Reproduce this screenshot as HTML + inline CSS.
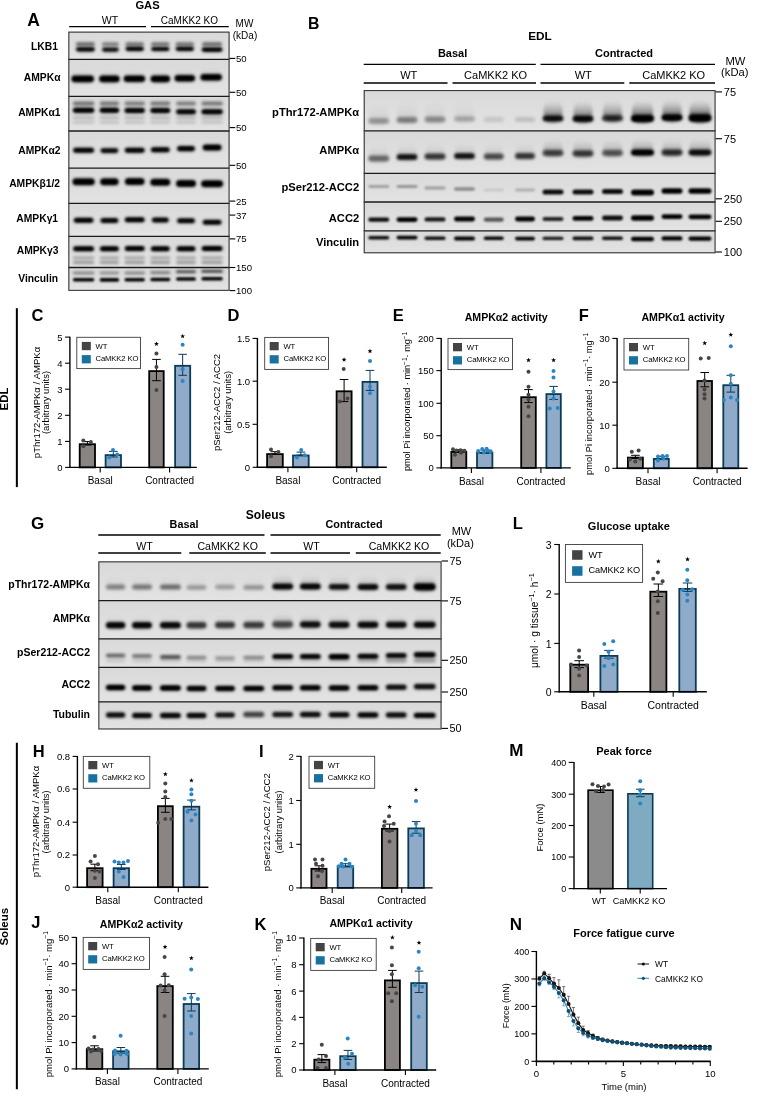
<!DOCTYPE html>
<html><head><meta charset="utf-8"><title>Figure</title>
<style>
html,body{margin:0;padding:0;background:#fff;}
body{width:760px;height:1096px;overflow:hidden;}
svg{display:block;font-family:"Liberation Sans", sans-serif;will-change:transform;}
</style></head>
<body>
<svg width="760" height="1096" viewBox="0 0 760 1096">
<defs>
<filter id="bl1" x="-40%" y="-300%" width="180%" height="700%"><feGaussianBlur stdDeviation="1.35"/></filter><linearGradient id="smg" x1="0" y1="0" x2="0" y2="1"><stop offset="0" stop-color="#000" stop-opacity="0"/><stop offset="0.45" stop-color="#000" stop-opacity="0.3"/><stop offset="0.8" stop-color="#000" stop-opacity="0.75"/><stop offset="1" stop-color="#000" stop-opacity="1"/></linearGradient><filter id="bls" x="-40%" y="-100%" width="180%" height="300%"><feGaussianBlur stdDeviation="1.8 2.0"/></filter><filter id="bl0" x="-40%" y="-300%" width="180%" height="700%"><feGaussianBlur stdDeviation="0.8"/></filter><filter id="bl2" x="-40%" y="-300%" width="180%" height="700%"><feGaussianBlur stdDeviation="1.5"/></filter><filter id="bl3" x="-40%" y="-300%" width="180%" height="700%"><feGaussianBlur stdDeviation="2.4"/></filter><linearGradient id="bgg" x1="0" y1="0" x2="0" y2="1"><stop offset="0" stop-color="#d9d9d9"/><stop offset="1" stop-color="#e3e3e3"/></linearGradient>
</defs>
<rect x="0" y="0" width="760" height="1096" fill="#fff"/>
<rect x="68.3" y="31.6" width="161.3" height="259.3" fill="#dcdcdc" stroke="none" stroke-width="1.0"/>
<svg x="68.3" y="31.6" width="161.3" height="259.3" viewBox="68.3 31.6 161.3 259.3" overflow="hidden">
<rect x="68.3" y="31.6" width="161.3" height="27.7" fill="url(#bgg)"/>
<rect x="75.9" y="42.3" width="19" height="3.8" rx="1.9" fill="#000" fill-opacity="0.55" filter="url(#bl2)"/>
<rect x="101.9" y="42.3" width="17" height="3.8" rx="1.9" fill="#000" fill-opacity="0.45" filter="url(#bl2)"/>
<rect x="125.45" y="42.3" width="18.5" height="3.8" rx="1.9" fill="#000" fill-opacity="0.5" filter="url(#bl2)"/>
<rect x="151.05" y="42.3" width="18.5" height="3.8" rx="1.9" fill="#000" fill-opacity="0.5" filter="url(#bl2)"/>
<rect x="175.55" y="42.3" width="18.5" height="3.8" rx="1.9" fill="#000" fill-opacity="0.5" filter="url(#bl2)"/>
<rect x="202.1" y="42.3" width="20" height="3.8" rx="1.9" fill="#000" fill-opacity="0.55" filter="url(#bl2)"/>
<rect x="76.9" y="44.3" width="17" height="7.1" rx="6.33" ry="2.5" fill="url(#smg)" fill-opacity="0.2" filter="url(#bls)"/>
<rect x="75.9" y="47.2" width="19" height="4.2" rx="2.1" fill="#000" fill-opacity="0.97" filter="url(#bl1)"/>
<rect x="77.4" y="48.25" width="16" height="2.1" rx="1.05" fill="#000" fill-opacity="0.78" filter="url(#bl0)"/>
<rect x="102.9" y="44.6" width="15" height="7.1" rx="5.67" ry="2.5" fill="url(#smg)" fill-opacity="0.18" filter="url(#bls)"/>
<rect x="101.9" y="47.5" width="17" height="4.2" rx="2.1" fill="#000" fill-opacity="0.85" filter="url(#bl1)"/>
<rect x="103.4" y="48.55" width="14" height="2.1" rx="1.05" fill="#000" fill-opacity="0.68" filter="url(#bl0)"/>
<rect x="126.45" y="43.8" width="16.5" height="7.1" rx="6.17" ry="2.5" fill="url(#smg)" fill-opacity="0.2" filter="url(#bls)"/>
<rect x="125.45" y="46.7" width="18.5" height="4.2" rx="2.1" fill="#000" fill-opacity="0.97" filter="url(#bl1)"/>
<rect x="126.95" y="47.75" width="15.5" height="2.1" rx="1.05" fill="#000" fill-opacity="0.78" filter="url(#bl0)"/>
<rect x="152.05" y="44" width="16.5" height="7.1" rx="6.17" ry="2.5" fill="url(#smg)" fill-opacity="0.2" filter="url(#bls)"/>
<rect x="151.05" y="46.9" width="18.5" height="4.2" rx="2.1" fill="#000" fill-opacity="0.92" filter="url(#bl1)"/>
<rect x="152.55" y="47.95" width="15.5" height="2.1" rx="1.05" fill="#000" fill-opacity="0.74" filter="url(#bl0)"/>
<rect x="176.55" y="43.8" width="16.5" height="7.1" rx="6.17" ry="2.5" fill="url(#smg)" fill-opacity="0.2" filter="url(#bls)"/>
<rect x="175.55" y="46.7" width="18.5" height="4.2" rx="2.1" fill="#000" fill-opacity="0.95" filter="url(#bl1)"/>
<rect x="177.05" y="47.75" width="15.5" height="2.1" rx="1.05" fill="#000" fill-opacity="0.76" filter="url(#bl0)"/>
<rect x="202.6" y="44.6" width="19" height="7.1" rx="7" ry="2.5" fill="url(#smg)" fill-opacity="0.22" filter="url(#bls)"/>
<rect x="201.6" y="47.5" width="21" height="4.2" rx="2.1" fill="#000" fill-opacity="1" filter="url(#bl1)"/>
<rect x="203.1" y="48.55" width="18" height="2.1" rx="1.05" fill="#000" fill-opacity="0.8" filter="url(#bl0)"/>
<rect x="68.3" y="59.3" width="161.3" height="37.1" fill="url(#bgg)"/>
<rect x="72.45" y="70.9" width="20.5" height="11.3" rx="7.5" ry="4" fill="url(#smg)" fill-opacity="0.2" filter="url(#bls)"/>
<rect x="71.45" y="75.6" width="22.5" height="6.6" rx="3.3" fill="#000" fill-opacity="1" filter="url(#bl1)"/>
<rect x="72.95" y="77.25" width="19.5" height="3.3" rx="1.65" fill="#000" fill-opacity="0.8" filter="url(#bl0)"/>
<rect x="100.15" y="70.9" width="18.5" height="11.3" rx="6.83" ry="4" fill="url(#smg)" fill-opacity="0.2" filter="url(#bls)"/>
<rect x="99.15" y="75.6" width="20.5" height="6.6" rx="3.3" fill="#000" fill-opacity="1" filter="url(#bl1)"/>
<rect x="100.65" y="77.25" width="17.5" height="3.3" rx="1.65" fill="#000" fill-opacity="0.8" filter="url(#bl0)"/>
<rect x="124.65" y="70.7" width="19.5" height="11.3" rx="7.17" ry="4" fill="url(#smg)" fill-opacity="0.2" filter="url(#bls)"/>
<rect x="123.65" y="75.4" width="21.5" height="6.6" rx="3.3" fill="#000" fill-opacity="1" filter="url(#bl1)"/>
<rect x="125.15" y="77.05" width="18.5" height="3.3" rx="1.65" fill="#000" fill-opacity="0.8" filter="url(#bl0)"/>
<rect x="151.55" y="70.9" width="17.5" height="11.3" rx="6.5" ry="4" fill="url(#smg)" fill-opacity="0.2" filter="url(#bls)"/>
<rect x="150.55" y="75.6" width="19.5" height="6.6" rx="3.3" fill="#000" fill-opacity="1" filter="url(#bl1)"/>
<rect x="152.05" y="77.25" width="16.5" height="3.3" rx="1.65" fill="#000" fill-opacity="0.8" filter="url(#bl0)"/>
<rect x="175.55" y="70.3" width="18.5" height="11.3" rx="6.83" ry="4" fill="url(#smg)" fill-opacity="0.2" filter="url(#bls)"/>
<rect x="174.55" y="75" width="20.5" height="6.6" rx="3.3" fill="#000" fill-opacity="1" filter="url(#bl1)"/>
<rect x="176.05" y="76.65" width="17.5" height="3.3" rx="1.65" fill="#000" fill-opacity="0.8" filter="url(#bl0)"/>
<rect x="201.45" y="69.3" width="19.5" height="11.3" rx="7.17" ry="4" fill="url(#smg)" fill-opacity="0.2" filter="url(#bls)"/>
<rect x="200.45" y="74" width="21.5" height="6.6" rx="3.3" fill="#000" fill-opacity="1" filter="url(#bl1)"/>
<rect x="201.95" y="75.65" width="18.5" height="3.3" rx="1.65" fill="#000" fill-opacity="0.8" filter="url(#bl0)"/>
<rect x="68.3" y="96.4" width="161.3" height="34.6" fill="url(#bgg)"/>
<rect x="72.85" y="101.6" width="21.5" height="4" rx="2" fill="#000" fill-opacity="0.5" filter="url(#bl2)"/>
<rect x="99.65" y="101.6" width="19.5" height="4" rx="2" fill="#000" fill-opacity="0.48" filter="url(#bl2)"/>
<rect x="124.45" y="101.6" width="20.5" height="4" rx="2" fill="#000" fill-opacity="0.45" filter="url(#bl2)"/>
<rect x="150.3" y="101.6" width="20" height="4" rx="2" fill="#000" fill-opacity="0.48" filter="url(#bl2)"/>
<rect x="176" y="101.6" width="20" height="4" rx="2" fill="#000" fill-opacity="0.45" filter="url(#bl2)"/>
<rect x="201.35" y="101.6" width="21.5" height="4" rx="2" fill="#000" fill-opacity="0.48" filter="url(#bl2)"/>
<rect x="73.85" y="104.2" width="19.5" height="8.5" rx="7.17" ry="3" fill="url(#smg)" fill-opacity="0.25" filter="url(#bls)"/>
<rect x="72.85" y="107.7" width="21.5" height="5" rx="2.5" fill="#000" fill-opacity="1" filter="url(#bl1)"/>
<rect x="74.35" y="108.95" width="18.5" height="2.5" rx="1.25" fill="#000" fill-opacity="0.8" filter="url(#bl0)"/>
<rect x="100.65" y="104.2" width="17.5" height="8.5" rx="6.5" ry="3" fill="url(#smg)" fill-opacity="0.25" filter="url(#bls)"/>
<rect x="99.65" y="107.7" width="19.5" height="5" rx="2.5" fill="#000" fill-opacity="1" filter="url(#bl1)"/>
<rect x="101.15" y="108.95" width="16.5" height="2.5" rx="1.25" fill="#000" fill-opacity="0.8" filter="url(#bl0)"/>
<rect x="125.45" y="104.6" width="18.5" height="8.5" rx="6.83" ry="3" fill="url(#smg)" fill-opacity="0.22" filter="url(#bls)"/>
<rect x="124.45" y="108.1" width="20.5" height="5" rx="2.5" fill="#000" fill-opacity="0.97" filter="url(#bl1)"/>
<rect x="125.95" y="109.35" width="17.5" height="2.5" rx="1.25" fill="#000" fill-opacity="0.78" filter="url(#bl0)"/>
<rect x="151.3" y="104.6" width="18" height="8.5" rx="6.67" ry="3" fill="url(#smg)" fill-opacity="0.25" filter="url(#bls)"/>
<rect x="150.3" y="108.1" width="20" height="5" rx="2.5" fill="#000" fill-opacity="0.97" filter="url(#bl1)"/>
<rect x="151.8" y="109.35" width="17" height="2.5" rx="1.25" fill="#000" fill-opacity="0.78" filter="url(#bl0)"/>
<rect x="177" y="105.8" width="18" height="8.5" rx="6.67" ry="3" fill="url(#smg)" fill-opacity="0.22" filter="url(#bls)"/>
<rect x="176" y="109.3" width="20" height="5" rx="2.5" fill="#000" fill-opacity="0.95" filter="url(#bl1)"/>
<rect x="177.5" y="110.55" width="17" height="2.5" rx="1.25" fill="#000" fill-opacity="0.76" filter="url(#bl0)"/>
<rect x="202.35" y="105.8" width="19.5" height="8.5" rx="7.17" ry="3" fill="url(#smg)" fill-opacity="0.25" filter="url(#bls)"/>
<rect x="201.35" y="109.3" width="21.5" height="5" rx="2.5" fill="#000" fill-opacity="0.97" filter="url(#bl1)"/>
<rect x="202.85" y="110.55" width="18.5" height="2.5" rx="1.25" fill="#000" fill-opacity="0.78" filter="url(#bl0)"/>
<rect x="72.85" y="116.3" width="21.5" height="2.6" rx="1.3" fill="#000" fill-opacity="0.2" filter="url(#bl2)"/>
<rect x="99.65" y="116.3" width="19.5" height="2.6" rx="1.3" fill="#000" fill-opacity="0.2" filter="url(#bl2)"/>
<rect x="124.45" y="116.3" width="20.5" height="2.6" rx="1.3" fill="#000" fill-opacity="0.2" filter="url(#bl2)"/>
<rect x="150.3" y="116.3" width="20" height="2.6" rx="1.3" fill="#000" fill-opacity="0.2" filter="url(#bl2)"/>
<rect x="176" y="116.3" width="20" height="2.6" rx="1.3" fill="#000" fill-opacity="0.2" filter="url(#bl2)"/>
<rect x="201.35" y="116.3" width="21.5" height="2.6" rx="1.3" fill="#000" fill-opacity="0.2" filter="url(#bl2)"/>
<rect x="72.85" y="120.9" width="21.5" height="2.6" rx="1.3" fill="#000" fill-opacity="0.17" filter="url(#bl2)"/>
<rect x="99.65" y="120.9" width="19.5" height="2.6" rx="1.3" fill="#000" fill-opacity="0.17" filter="url(#bl2)"/>
<rect x="124.45" y="120.9" width="20.5" height="2.6" rx="1.3" fill="#000" fill-opacity="0.17" filter="url(#bl2)"/>
<rect x="150.3" y="120.9" width="20" height="2.6" rx="1.3" fill="#000" fill-opacity="0.17" filter="url(#bl2)"/>
<rect x="176" y="120.9" width="20" height="2.6" rx="1.3" fill="#000" fill-opacity="0.17" filter="url(#bl2)"/>
<rect x="201.35" y="120.9" width="21.5" height="2.6" rx="1.3" fill="#000" fill-opacity="0.17" filter="url(#bl2)"/>
<rect x="68.3" y="131" width="161.3" height="37.2" fill="url(#bgg)"/>
<rect x="74.1" y="144.2" width="19" height="8.5" rx="7" ry="3" fill="url(#smg)" fill-opacity="0.12" filter="url(#bls)"/>
<rect x="73.1" y="147.7" width="21" height="5" rx="2.5" fill="#000" fill-opacity="0.97" filter="url(#bl1)"/>
<rect x="74.6" y="148.95" width="18" height="2.5" rx="1.25" fill="#000" fill-opacity="0.78" filter="url(#bl0)"/>
<rect x="101.4" y="144.6" width="16" height="8.4" rx="6" ry="3" fill="url(#smg)" fill-opacity="0.12" filter="url(#bls)"/>
<rect x="100.4" y="148.2" width="18" height="4.8" rx="2.4" fill="#000" fill-opacity="0.92" filter="url(#bl1)"/>
<rect x="101.9" y="149.4" width="15" height="2.4" rx="1.2" fill="#000" fill-opacity="0.74" filter="url(#bl0)"/>
<rect x="125.7" y="144.2" width="18" height="8.5" rx="6.67" ry="3" fill="url(#smg)" fill-opacity="0.12" filter="url(#bls)"/>
<rect x="124.7" y="147.7" width="20" height="5" rx="2.5" fill="#000" fill-opacity="0.97" filter="url(#bl1)"/>
<rect x="126.2" y="148.95" width="17" height="2.5" rx="1.25" fill="#000" fill-opacity="0.78" filter="url(#bl0)"/>
<rect x="151.8" y="143.7" width="17" height="8.5" rx="6.33" ry="3" fill="url(#smg)" fill-opacity="0.12" filter="url(#bls)"/>
<rect x="150.8" y="147.2" width="19" height="5" rx="2.5" fill="#000" fill-opacity="0.97" filter="url(#bl1)"/>
<rect x="152.3" y="148.45" width="16" height="2.5" rx="1.25" fill="#000" fill-opacity="0.78" filter="url(#bl0)"/>
<rect x="178" y="142.6" width="16" height="8.7" rx="6" ry="3" fill="url(#smg)" fill-opacity="0.12" filter="url(#bls)"/>
<rect x="177" y="145.9" width="18" height="5.4" rx="2.7" fill="#000" fill-opacity="0.97" filter="url(#bl1)"/>
<rect x="178.5" y="147.25" width="15" height="2.7" rx="1.35" fill="#000" fill-opacity="0.78" filter="url(#bl0)"/>
<rect x="203.6" y="141.6" width="17" height="9" rx="6.33" ry="3" fill="url(#smg)" fill-opacity="0.12" filter="url(#bls)"/>
<rect x="202.6" y="144.6" width="19" height="6" rx="3" fill="#000" fill-opacity="1" filter="url(#bl1)"/>
<rect x="204.1" y="146.1" width="16" height="3" rx="1.5" fill="#000" fill-opacity="0.8" filter="url(#bl0)"/>
<rect x="68.3" y="168.2" width="161.3" height="35.1" fill="url(#bgg)"/>
<rect x="72.45" y="178.3" width="22.3" height="7" rx="3.5" fill="#000" fill-opacity="1" filter="url(#bl1)"/>
<rect x="73.95" y="180.05" width="19.3" height="3.5" rx="1.75" fill="#000" fill-opacity="0.8" filter="url(#bl0)"/>
<rect x="100.15" y="178.3" width="18.5" height="7" rx="3.5" fill="#000" fill-opacity="1" filter="url(#bl1)"/>
<rect x="101.65" y="180.05" width="15.5" height="3.5" rx="1.75" fill="#000" fill-opacity="0.8" filter="url(#bl0)"/>
<rect x="124.85" y="178.1" width="19.7" height="7" rx="3.5" fill="#000" fill-opacity="1" filter="url(#bl1)"/>
<rect x="126.35" y="179.85" width="16.7" height="3.5" rx="1.75" fill="#000" fill-opacity="0.8" filter="url(#bl0)"/>
<rect x="150.3" y="178.7" width="20" height="7" rx="3.5" fill="#000" fill-opacity="1" filter="url(#bl1)"/>
<rect x="151.8" y="180.45" width="17" height="3.5" rx="1.75" fill="#000" fill-opacity="0.8" filter="url(#bl0)"/>
<rect x="176" y="180.1" width="20" height="7" rx="3.5" fill="#000" fill-opacity="1" filter="url(#bl1)"/>
<rect x="177.5" y="181.85" width="17" height="3.5" rx="1.75" fill="#000" fill-opacity="0.8" filter="url(#bl0)"/>
<rect x="201.1" y="180.3" width="22" height="7" rx="3.5" fill="#000" fill-opacity="1" filter="url(#bl1)"/>
<rect x="202.6" y="182.05" width="19" height="3.5" rx="1.75" fill="#000" fill-opacity="0.8" filter="url(#bl0)"/>
<rect x="68.3" y="203.3" width="161.3" height="33" fill="url(#bgg)"/>
<rect x="73.75" y="217.7" width="19.7" height="5" rx="2.5" fill="#000" fill-opacity="1" filter="url(#bl1)"/>
<rect x="75.25" y="218.95" width="16.7" height="2.5" rx="1.25" fill="#000" fill-opacity="0.8" filter="url(#bl0)"/>
<rect x="100.4" y="218.1" width="18" height="5" rx="2.5" fill="#000" fill-opacity="0.95" filter="url(#bl1)"/>
<rect x="101.9" y="219.35" width="15" height="2.5" rx="1.25" fill="#000" fill-opacity="0.76" filter="url(#bl0)"/>
<rect x="124.7" y="217.3" width="20" height="5" rx="2.5" fill="#000" fill-opacity="1" filter="url(#bl1)"/>
<rect x="126.2" y="218.55" width="17" height="2.5" rx="1.25" fill="#000" fill-opacity="0.8" filter="url(#bl0)"/>
<rect x="151.8" y="217.5" width="17" height="5" rx="2.5" fill="#000" fill-opacity="0.95" filter="url(#bl1)"/>
<rect x="153.3" y="218.75" width="14" height="2.5" rx="1.25" fill="#000" fill-opacity="0.76" filter="url(#bl0)"/>
<rect x="177" y="218.3" width="18" height="5" rx="2.5" fill="#000" fill-opacity="0.95" filter="url(#bl1)"/>
<rect x="178.5" y="219.55" width="15" height="2.5" rx="1.25" fill="#000" fill-opacity="0.76" filter="url(#bl0)"/>
<rect x="202.6" y="219.7" width="19" height="5" rx="2.5" fill="#000" fill-opacity="0.95" filter="url(#bl1)"/>
<rect x="204.1" y="220.95" width="16" height="2.5" rx="1.25" fill="#000" fill-opacity="0.76" filter="url(#bl0)"/>
<rect x="68.3" y="236.3" width="161.3" height="31.2" fill="url(#bgg)"/>
<rect x="73.1" y="246.3" width="21" height="5" rx="2.5" fill="#000" fill-opacity="1" filter="url(#bl1)"/>
<rect x="74.6" y="247.55" width="18" height="2.5" rx="1.25" fill="#000" fill-opacity="0.8" filter="url(#bl0)"/>
<rect x="99.9" y="246.3" width="19" height="5" rx="2.5" fill="#000" fill-opacity="1" filter="url(#bl1)"/>
<rect x="101.4" y="247.55" width="16" height="2.5" rx="1.25" fill="#000" fill-opacity="0.8" filter="url(#bl0)"/>
<rect x="124.7" y="246.1" width="20" height="5" rx="2.5" fill="#000" fill-opacity="1" filter="url(#bl1)"/>
<rect x="126.2" y="247.35" width="17" height="2.5" rx="1.25" fill="#000" fill-opacity="0.8" filter="url(#bl0)"/>
<rect x="150.8" y="246.3" width="19" height="5" rx="2.5" fill="#000" fill-opacity="1" filter="url(#bl1)"/>
<rect x="152.3" y="247.55" width="16" height="2.5" rx="1.25" fill="#000" fill-opacity="0.8" filter="url(#bl0)"/>
<rect x="176.5" y="246.3" width="19" height="5" rx="2.5" fill="#000" fill-opacity="1" filter="url(#bl1)"/>
<rect x="178" y="247.55" width="16" height="2.5" rx="1.25" fill="#000" fill-opacity="0.8" filter="url(#bl0)"/>
<rect x="201.6" y="246.1" width="21" height="5" rx="2.5" fill="#000" fill-opacity="1" filter="url(#bl1)"/>
<rect x="203.1" y="247.35" width="18" height="2.5" rx="1.25" fill="#000" fill-opacity="0.8" filter="url(#bl0)"/>
<rect x="72.85" y="256.4" width="21.5" height="2.8" rx="1.4" fill="#000" fill-opacity="0.3" filter="url(#bl2)"/>
<rect x="99.65" y="256.4" width="19.5" height="2.8" rx="1.4" fill="#000" fill-opacity="0.3" filter="url(#bl2)"/>
<rect x="124.45" y="256.4" width="20.5" height="2.8" rx="1.4" fill="#000" fill-opacity="0.3" filter="url(#bl2)"/>
<rect x="150.3" y="256.4" width="20" height="2.8" rx="1.4" fill="#000" fill-opacity="0.3" filter="url(#bl2)"/>
<rect x="176" y="256.4" width="20" height="2.8" rx="1.4" fill="#000" fill-opacity="0.3" filter="url(#bl2)"/>
<rect x="201.35" y="256.4" width="21.5" height="2.8" rx="1.4" fill="#000" fill-opacity="0.3" filter="url(#bl2)"/>
<rect x="72.85" y="260.9" width="21.5" height="3" rx="1.5" fill="#000" fill-opacity="0.34" filter="url(#bl2)"/>
<rect x="99.65" y="260.9" width="19.5" height="3" rx="1.5" fill="#000" fill-opacity="0.34" filter="url(#bl2)"/>
<rect x="124.45" y="260.9" width="20.5" height="3" rx="1.5" fill="#000" fill-opacity="0.34" filter="url(#bl2)"/>
<rect x="150.3" y="260.9" width="20" height="3" rx="1.5" fill="#000" fill-opacity="0.34" filter="url(#bl2)"/>
<rect x="176" y="260.9" width="20" height="3" rx="1.5" fill="#000" fill-opacity="0.34" filter="url(#bl2)"/>
<rect x="201.35" y="260.9" width="21.5" height="3" rx="1.5" fill="#000" fill-opacity="0.34" filter="url(#bl2)"/>
<rect x="68.3" y="267.5" width="161.3" height="23.4" fill="url(#bgg)"/>
<rect x="72.85" y="271.8" width="21.5" height="2.4" rx="1.2" fill="#000" fill-opacity="0.48" filter="url(#bl1)"/>
<rect x="99.65" y="271.8" width="19.5" height="2.4" rx="1.2" fill="#000" fill-opacity="0.42" filter="url(#bl1)"/>
<rect x="124.45" y="271.8" width="20.5" height="2.4" rx="1.2" fill="#000" fill-opacity="0.48" filter="url(#bl1)"/>
<rect x="150.3" y="271.4" width="20" height="2.4" rx="1.2" fill="#000" fill-opacity="0.58" filter="url(#bl1)"/>
<rect x="176" y="270.6" width="20" height="2.4" rx="1.2" fill="#000" fill-opacity="0.8" filter="url(#bl1)"/>
<rect x="201.35" y="270" width="21.5" height="2.4" rx="1.2" fill="#000" fill-opacity="0.85" filter="url(#bl1)"/>
<rect x="72.85" y="278" width="21.5" height="3.6" rx="1.8" fill="#000" fill-opacity="1" filter="url(#bl0)"/>
<rect x="99.65" y="278.1" width="19.5" height="3.6" rx="1.8" fill="#000" fill-opacity="1" filter="url(#bl0)"/>
<rect x="124.45" y="277.9" width="20.5" height="3.6" rx="1.8" fill="#000" fill-opacity="1" filter="url(#bl0)"/>
<rect x="150.3" y="277.7" width="20" height="3.6" rx="1.8" fill="#000" fill-opacity="1" filter="url(#bl0)"/>
<rect x="176" y="277.2" width="20" height="3.6" rx="1.8" fill="#000" fill-opacity="1" filter="url(#bl0)"/>
<rect x="201.35" y="277" width="21.5" height="3.6" rx="1.8" fill="#000" fill-opacity="1" filter="url(#bl0)"/>
</svg>
<line x1="68.3" y1="59.3" x2="229.6" y2="59.3" stroke="#1a1a1a" stroke-width="1.3"/>
<line x1="68.3" y1="96.4" x2="229.6" y2="96.4" stroke="#1a1a1a" stroke-width="1.3"/>
<line x1="68.3" y1="131" x2="229.6" y2="131" stroke="#1a1a1a" stroke-width="1.3"/>
<line x1="68.3" y1="168.2" x2="229.6" y2="168.2" stroke="#1a1a1a" stroke-width="1.3"/>
<line x1="68.3" y1="203.3" x2="229.6" y2="203.3" stroke="#1a1a1a" stroke-width="1.3"/>
<line x1="68.3" y1="236.3" x2="229.6" y2="236.3" stroke="#1a1a1a" stroke-width="1.3"/>
<line x1="68.3" y1="267.5" x2="229.6" y2="267.5" stroke="#1a1a1a" stroke-width="1.3"/>
<rect x="68.85" y="32.15" width="160.2" height="258.2" fill="none" stroke="#3a3a3a" stroke-width="1.1"/>
<rect x="363.7" y="90" width="351.9" height="163.3" fill="#dcdcdc" stroke="none" stroke-width="1.0"/>
<svg x="363.7" y="90" width="351.9" height="163.3" viewBox="363.7 90 351.9 163.3" overflow="hidden">
<rect x="363.7" y="90" width="351.9" height="40.8" fill="url(#bgg)"/>
<rect x="369.25" y="104" width="19" height="20" rx="7" ry="8.5" fill="url(#smg)" fill-opacity="0.1" filter="url(#bls)"/>
<rect x="368.25" y="118" width="21" height="6" rx="3" fill="#000" fill-opacity="0.3" filter="url(#bl1)"/>
<rect x="397.5" y="103" width="19" height="20" rx="7" ry="8.5" fill="url(#smg)" fill-opacity="0.12" filter="url(#bls)"/>
<rect x="396.5" y="117" width="21" height="6" rx="3" fill="#000" fill-opacity="0.4" filter="url(#bl1)"/>
<rect x="425.5" y="102.5" width="19" height="20" rx="7" ry="8.5" fill="url(#smg)" fill-opacity="0.1" filter="url(#bls)"/>
<rect x="424.5" y="116.5" width="21" height="6" rx="3" fill="#000" fill-opacity="0.36" filter="url(#bl1)"/>
<rect x="455" y="102" width="19" height="19.8" rx="7" ry="8.5" fill="url(#smg)" fill-opacity="0.08" filter="url(#bls)"/>
<rect x="454" y="116.2" width="21" height="5.6" rx="2.8" fill="#000" fill-opacity="0.24" filter="url(#bl1)"/>
<rect x="483.75" y="117" width="20" height="5" rx="2.5" fill="#000" fill-opacity="0.12" filter="url(#bl1)"/>
<rect x="515" y="117" width="20" height="5" rx="2.5" fill="#000" fill-opacity="0.15" filter="url(#bl1)"/>
<rect x="543.5" y="101.6" width="19" height="20" rx="7" ry="8.5" fill="url(#smg)" fill-opacity="0.72" filter="url(#bls)"/>
<rect x="542.5" y="115.6" width="21" height="6" rx="3" fill="#000" fill-opacity="0.8" filter="url(#bl1)"/>
<rect x="544" y="117.1" width="18" height="3" rx="1.5" fill="#000" fill-opacity="0.64" filter="url(#bl0)"/>
<rect x="573.5" y="101.8" width="19" height="20.1" rx="7" ry="8.5" fill="url(#smg)" fill-opacity="0.72" filter="url(#bls)"/>
<rect x="572.5" y="115.7" width="21" height="6.2" rx="3.1" fill="#000" fill-opacity="0.88" filter="url(#bl1)"/>
<rect x="574" y="117.25" width="18" height="3.1" rx="1.55" fill="#000" fill-opacity="0.7" filter="url(#bl0)"/>
<rect x="603" y="101.2" width="19" height="20" rx="7" ry="8.5" fill="url(#smg)" fill-opacity="0.66" filter="url(#bls)"/>
<rect x="602" y="115.2" width="21" height="6" rx="3" fill="#000" fill-opacity="0.75" filter="url(#bl1)"/>
<rect x="632" y="101.4" width="21" height="20.5" rx="7.67" ry="8.5" fill="url(#smg)" fill-opacity="0.9" filter="url(#bls)"/>
<rect x="631" y="114.9" width="23" height="7" rx="3.5" fill="#000" fill-opacity="1" filter="url(#bl1)"/>
<rect x="632.5" y="116.65" width="20" height="3.5" rx="1.75" fill="#000" fill-opacity="0.8" filter="url(#bl0)"/>
<rect x="662.5" y="100.6" width="19" height="20.1" rx="7" ry="8.5" fill="url(#smg)" fill-opacity="0.85" filter="url(#bls)"/>
<rect x="661.5" y="114.5" width="21" height="6.2" rx="3.1" fill="#000" fill-opacity="1" filter="url(#bl1)"/>
<rect x="663" y="116.05" width="18" height="3.1" rx="1.55" fill="#000" fill-opacity="0.8" filter="url(#bl0)"/>
<rect x="689.5" y="101" width="21" height="20.8" rx="7.67" ry="8.5" fill="url(#smg)" fill-opacity="0.95" filter="url(#bls)"/>
<rect x="688.5" y="114.2" width="23" height="7.6" rx="3.8" fill="#000" fill-opacity="1" filter="url(#bl1)"/>
<rect x="690" y="116.1" width="20" height="3.8" rx="1.9" fill="#000" fill-opacity="0.8" filter="url(#bl0)"/>
<rect x="363.7" y="130.8" width="351.9" height="42.5" fill="url(#bgg)"/>
<rect x="369.25" y="145.5" width="19" height="16.1" rx="7" ry="6.5" fill="url(#smg)" fill-opacity="0.16" filter="url(#bls)"/>
<rect x="368.25" y="155.4" width="21" height="6.2" rx="3.1" fill="#000" fill-opacity="0.5" filter="url(#bl1)"/>
<rect x="397.5" y="144" width="19" height="16.1" rx="7" ry="6.5" fill="url(#smg)" fill-opacity="0.2" filter="url(#bls)"/>
<rect x="396.5" y="153.9" width="21" height="6.2" rx="3.1" fill="#000" fill-opacity="0.8" filter="url(#bl1)"/>
<rect x="398" y="155.45" width="18" height="3.1" rx="1.55" fill="#000" fill-opacity="0.64" filter="url(#bl0)"/>
<rect x="425.5" y="143.5" width="19" height="16.1" rx="7" ry="6.5" fill="url(#smg)" fill-opacity="0.18" filter="url(#bls)"/>
<rect x="424.5" y="153.4" width="21" height="6.2" rx="3.1" fill="#000" fill-opacity="0.75" filter="url(#bl1)"/>
<rect x="455" y="143" width="19" height="16.1" rx="7" ry="6.5" fill="url(#smg)" fill-opacity="0.2" filter="url(#bls)"/>
<rect x="454" y="152.9" width="21" height="6.2" rx="3.1" fill="#000" fill-opacity="0.8" filter="url(#bl1)"/>
<rect x="455.5" y="154.45" width="18" height="3.1" rx="1.55" fill="#000" fill-opacity="0.64" filter="url(#bl0)"/>
<rect x="484.75" y="143.5" width="18" height="16.1" rx="6.67" ry="6.5" fill="url(#smg)" fill-opacity="0.16" filter="url(#bls)"/>
<rect x="483.75" y="153.4" width="20" height="6.2" rx="3.1" fill="#000" fill-opacity="0.65" filter="url(#bl1)"/>
<rect x="516" y="143" width="18" height="16.1" rx="6.67" ry="6.5" fill="url(#smg)" fill-opacity="0.18" filter="url(#bls)"/>
<rect x="515" y="152.9" width="20" height="6.2" rx="3.1" fill="#000" fill-opacity="0.75" filter="url(#bl1)"/>
<rect x="543.5" y="140" width="19" height="16.1" rx="7" ry="6.5" fill="url(#smg)" fill-opacity="0.42" filter="url(#bls)"/>
<rect x="542.5" y="149.9" width="21" height="6.2" rx="3.1" fill="#000" fill-opacity="0.65" filter="url(#bl1)"/>
<rect x="573.5" y="140.5" width="19" height="16.1" rx="7" ry="6.5" fill="url(#smg)" fill-opacity="0.42" filter="url(#bls)"/>
<rect x="572.5" y="150.4" width="21" height="6.2" rx="3.1" fill="#000" fill-opacity="0.7" filter="url(#bl1)"/>
<rect x="603" y="140" width="19" height="16.1" rx="7" ry="6.5" fill="url(#smg)" fill-opacity="0.36" filter="url(#bls)"/>
<rect x="602" y="149.9" width="21" height="6.2" rx="3.1" fill="#000" fill-opacity="0.55" filter="url(#bl1)"/>
<rect x="632" y="139.5" width="21" height="16.1" rx="7.67" ry="6.5" fill="url(#smg)" fill-opacity="0.52" filter="url(#bls)"/>
<rect x="631" y="149.4" width="23" height="6.2" rx="3.1" fill="#000" fill-opacity="1" filter="url(#bl1)"/>
<rect x="632.5" y="150.95" width="20" height="3.1" rx="1.55" fill="#000" fill-opacity="0.8" filter="url(#bl0)"/>
<rect x="662.5" y="139.5" width="19" height="16.1" rx="7" ry="6.5" fill="url(#smg)" fill-opacity="0.4" filter="url(#bls)"/>
<rect x="661.5" y="149.4" width="21" height="6.2" rx="3.1" fill="#000" fill-opacity="0.78" filter="url(#bl1)"/>
<rect x="689.5" y="139.5" width="21" height="16.1" rx="7.67" ry="6.5" fill="url(#smg)" fill-opacity="0.46" filter="url(#bls)"/>
<rect x="688.5" y="149.4" width="23" height="6.2" rx="3.1" fill="#000" fill-opacity="0.85" filter="url(#bl1)"/>
<rect x="690" y="150.95" width="20" height="3.1" rx="1.55" fill="#000" fill-opacity="0.68" filter="url(#bl0)"/>
<rect x="363.7" y="173.3" width="351.9" height="28.7" fill="url(#bgg)"/>
<rect x="368.25" y="185.1" width="21" height="2.8" rx="1.4" fill="#000" fill-opacity="0.28" filter="url(#bl0)"/>
<rect x="396.5" y="185" width="21" height="3" rx="1.5" fill="#000" fill-opacity="0.33" filter="url(#bl0)"/>
<rect x="424.5" y="186.5" width="21" height="3" rx="1.5" fill="#000" fill-opacity="0.3" filter="url(#bl0)"/>
<rect x="454" y="187.3" width="21" height="3.4" rx="1.7" fill="#000" fill-opacity="0.38" filter="url(#bl0)"/>
<rect x="483.75" y="188.7" width="20" height="2.6" rx="1.3" fill="#000" fill-opacity="0.12" filter="url(#bl0)"/>
<rect x="515" y="188.6" width="20" height="2.8" rx="1.4" fill="#000" fill-opacity="0.22" filter="url(#bl0)"/>
<rect x="542.5" y="189.5" width="21" height="5" rx="2.5" fill="#000" fill-opacity="0.95" filter="url(#bl0)"/>
<rect x="572.5" y="189.5" width="21" height="5" rx="2.5" fill="#000" fill-opacity="0.95" filter="url(#bl0)"/>
<rect x="602" y="189" width="21" height="5" rx="2.5" fill="#000" fill-opacity="0.95" filter="url(#bl0)"/>
<rect x="631" y="189.6" width="23" height="5.8" rx="2.9" fill="#000" fill-opacity="1" filter="url(#bl0)"/>
<rect x="661.5" y="188.3" width="21" height="5.4" rx="2.7" fill="#000" fill-opacity="1" filter="url(#bl0)"/>
<rect x="688.5" y="188.3" width="23" height="5.4" rx="2.7" fill="#000" fill-opacity="1" filter="url(#bl0)"/>
<rect x="363.7" y="202" width="351.9" height="28.8" fill="url(#bgg)"/>
<rect x="368.25" y="217.4" width="21" height="4.4" rx="2.2" fill="#000" fill-opacity="0.95" filter="url(#bl0)"/>
<rect x="396.5" y="217.2" width="21" height="4.8" rx="2.4" fill="#000" fill-opacity="1" filter="url(#bl0)"/>
<rect x="424.5" y="217.2" width="21" height="4.4" rx="2.2" fill="#000" fill-opacity="0.9" filter="url(#bl0)"/>
<rect x="454" y="216.6" width="21" height="4.8" rx="2.4" fill="#000" fill-opacity="1" filter="url(#bl0)"/>
<rect x="483.75" y="217.5" width="20" height="4.2" rx="2.1" fill="#000" fill-opacity="0.62" filter="url(#bl0)"/>
<rect x="515" y="216.6" width="20" height="4.8" rx="2.4" fill="#000" fill-opacity="1" filter="url(#bl0)"/>
<rect x="542.5" y="216.9" width="21" height="4.2" rx="2.1" fill="#000" fill-opacity="0.85" filter="url(#bl0)"/>
<rect x="572.5" y="216" width="21" height="4.8" rx="2.4" fill="#000" fill-opacity="1" filter="url(#bl0)"/>
<rect x="602" y="215.6" width="21" height="4.8" rx="2.4" fill="#000" fill-opacity="0.95" filter="url(#bl0)"/>
<rect x="631" y="215.3" width="23" height="5.4" rx="2.7" fill="#000" fill-opacity="1" filter="url(#bl0)"/>
<rect x="661.5" y="214.2" width="21" height="4.8" rx="2.4" fill="#000" fill-opacity="1" filter="url(#bl0)"/>
<rect x="688.5" y="214.4" width="23" height="4.8" rx="2.4" fill="#000" fill-opacity="1" filter="url(#bl0)"/>
<rect x="363.7" y="230.8" width="351.9" height="22.5" fill="url(#bgg)"/>
<rect x="368.25" y="236" width="21" height="3.6" rx="1.8" fill="#000" fill-opacity="0.95" filter="url(#bl0)"/>
<rect x="396.5" y="235.8" width="21" height="3.6" rx="1.8" fill="#000" fill-opacity="1" filter="url(#bl0)"/>
<rect x="424.5" y="236.5" width="21" height="3.4" rx="1.7" fill="#000" fill-opacity="0.95" filter="url(#bl0)"/>
<rect x="454" y="236.4" width="21" height="4" rx="2" fill="#000" fill-opacity="1" filter="url(#bl0)"/>
<rect x="483.75" y="236.4" width="20" height="3.6" rx="1.8" fill="#000" fill-opacity="1" filter="url(#bl0)"/>
<rect x="515" y="236.8" width="20" height="3.6" rx="1.8" fill="#000" fill-opacity="1" filter="url(#bl0)"/>
<rect x="542.5" y="236.7" width="21" height="3.4" rx="1.7" fill="#000" fill-opacity="0.9" filter="url(#bl0)"/>
<rect x="572.5" y="236.6" width="21" height="3.6" rx="1.8" fill="#000" fill-opacity="0.95" filter="url(#bl0)"/>
<rect x="602" y="236.4" width="21" height="3.6" rx="1.8" fill="#000" fill-opacity="0.95" filter="url(#bl0)"/>
<rect x="631" y="236.8" width="23" height="4.4" rx="2.2" fill="#000" fill-opacity="1" filter="url(#bl0)"/>
<rect x="661.5" y="236.2" width="21" height="4.4" rx="2.2" fill="#000" fill-opacity="1" filter="url(#bl0)"/>
<rect x="688.5" y="236.4" width="23" height="4.4" rx="2.2" fill="#000" fill-opacity="1" filter="url(#bl0)"/>
</svg>
<line x1="363.7" y1="130.8" x2="715.6" y2="130.8" stroke="#1a1a1a" stroke-width="1.3"/>
<line x1="363.7" y1="173.3" x2="715.6" y2="173.3" stroke="#1a1a1a" stroke-width="1.3"/>
<line x1="363.7" y1="202" x2="715.6" y2="202" stroke="#1a1a1a" stroke-width="1.3"/>
<line x1="363.7" y1="230.8" x2="715.6" y2="230.8" stroke="#1a1a1a" stroke-width="1.3"/>
<rect x="364.25" y="90.55" width="350.8" height="162.2" fill="none" stroke="#3a3a3a" stroke-width="1.1"/>
<rect x="98.3" y="561.3" width="343.3" height="168.2" fill="#dcdcdc" stroke="none" stroke-width="1.0"/>
<svg x="98.3" y="561.3" width="343.3" height="168.2" viewBox="98.3 561.3 343.3 168.2" overflow="hidden">
<rect x="98.3" y="561.3" width="343.3" height="39.3" fill="url(#bgg)"/>
<rect x="106.85" y="575" width="17.5" height="14.5" rx="6.5" ry="6" fill="url(#smg)" fill-opacity="0.08" filter="url(#bls)"/>
<rect x="105.85" y="584.5" width="19.5" height="5" rx="2.5" fill="#000" fill-opacity="0.4" filter="url(#bl1)"/>
<rect x="133" y="575" width="18" height="14.5" rx="6.67" ry="6" fill="url(#smg)" fill-opacity="0.08" filter="url(#bls)"/>
<rect x="132" y="584.5" width="20" height="5" rx="2.5" fill="#000" fill-opacity="0.45" filter="url(#bl1)"/>
<rect x="160.9" y="575" width="19" height="14.6" rx="7" ry="6" fill="url(#smg)" fill-opacity="0.08" filter="url(#bls)"/>
<rect x="159.9" y="584.4" width="21" height="5.2" rx="2.6" fill="#000" fill-opacity="0.5" filter="url(#bl1)"/>
<rect x="187.5" y="575.5" width="18" height="14.3" rx="6.67" ry="6" fill="url(#smg)" fill-opacity="0.06" filter="url(#bls)"/>
<rect x="186.5" y="585.2" width="20" height="4.6" rx="2.3" fill="#000" fill-opacity="0.3" filter="url(#bl1)"/>
<rect x="216" y="575" width="18" height="14.2" rx="6.67" ry="6" fill="url(#smg)" fill-opacity="0.06" filter="url(#bls)"/>
<rect x="215" y="584.8" width="20" height="4.4" rx="2.2" fill="#000" fill-opacity="0.28" filter="url(#bl1)"/>
<rect x="244.25" y="575.5" width="19" height="14.2" rx="7" ry="6" fill="url(#smg)" fill-opacity="0.06" filter="url(#bls)"/>
<rect x="243.25" y="585.3" width="21" height="4.4" rx="2.2" fill="#000" fill-opacity="0.33" filter="url(#bl1)"/>
<rect x="273.2" y="574.5" width="19" height="15" rx="7" ry="6" fill="url(#smg)" fill-opacity="0.3" filter="url(#bls)"/>
<rect x="272.2" y="583.5" width="21" height="6" rx="3" fill="#000" fill-opacity="0.9" filter="url(#bl1)"/>
<rect x="273.7" y="585" width="18" height="3" rx="1.5" fill="#000" fill-opacity="0.72" filter="url(#bl0)"/>
<rect x="300.8" y="574.5" width="19" height="15" rx="7" ry="6" fill="url(#smg)" fill-opacity="0.25" filter="url(#bls)"/>
<rect x="299.8" y="583.5" width="21" height="6" rx="3" fill="#000" fill-opacity="0.92" filter="url(#bl1)"/>
<rect x="301.3" y="585" width="18" height="3" rx="1.5" fill="#000" fill-opacity="0.74" filter="url(#bl0)"/>
<rect x="329.6" y="574.8" width="19" height="14.9" rx="7" ry="6" fill="url(#smg)" fill-opacity="0.2" filter="url(#bls)"/>
<rect x="328.6" y="583.9" width="21" height="5.8" rx="2.9" fill="#000" fill-opacity="0.82" filter="url(#bl1)"/>
<rect x="330.1" y="585.35" width="18" height="2.9" rx="1.45" fill="#000" fill-opacity="0.66" filter="url(#bl0)"/>
<rect x="358.4" y="575" width="19" height="15" rx="7" ry="6" fill="url(#smg)" fill-opacity="0.22" filter="url(#bls)"/>
<rect x="357.4" y="584" width="21" height="6" rx="3" fill="#000" fill-opacity="0.88" filter="url(#bl1)"/>
<rect x="358.9" y="585.5" width="18" height="3" rx="1.5" fill="#000" fill-opacity="0.7" filter="url(#bl0)"/>
<rect x="386.7" y="575" width="19" height="14.9" rx="7" ry="6" fill="url(#smg)" fill-opacity="0.2" filter="url(#bls)"/>
<rect x="385.7" y="584.1" width="21" height="5.8" rx="2.9" fill="#000" fill-opacity="0.82" filter="url(#bl1)"/>
<rect x="387.2" y="585.55" width="18" height="2.9" rx="1.45" fill="#000" fill-opacity="0.66" filter="url(#bl0)"/>
<rect x="414.7" y="574.8" width="20" height="15.6" rx="7.33" ry="6" fill="url(#smg)" fill-opacity="0.38" filter="url(#bls)"/>
<rect x="413.7" y="583.2" width="22" height="7.2" rx="3.6" fill="#000" fill-opacity="0.98" filter="url(#bl1)"/>
<rect x="415.2" y="585" width="19" height="3.6" rx="1.8" fill="#000" fill-opacity="0.78" filter="url(#bl0)"/>
<rect x="98.3" y="600.6" width="343.3" height="38.3" fill="url(#bgg)"/>
<rect x="106.85" y="615.2" width="17.5" height="13.3" rx="6.5" ry="5" fill="url(#smg)" fill-opacity="0.15" filter="url(#bls)"/>
<rect x="105.85" y="621.9" width="19.5" height="6.6" rx="3.3" fill="#000" fill-opacity="0.93" filter="url(#bl1)"/>
<rect x="107.35" y="623.55" width="16.5" height="3.3" rx="1.65" fill="#000" fill-opacity="0.74" filter="url(#bl0)"/>
<rect x="133" y="615.2" width="18" height="13.3" rx="6.67" ry="5" fill="url(#smg)" fill-opacity="0.15" filter="url(#bls)"/>
<rect x="132" y="621.9" width="20" height="6.6" rx="3.3" fill="#000" fill-opacity="0.93" filter="url(#bl1)"/>
<rect x="133.5" y="623.55" width="17" height="3.3" rx="1.65" fill="#000" fill-opacity="0.74" filter="url(#bl0)"/>
<rect x="160.9" y="615.2" width="19" height="13.3" rx="7" ry="5" fill="url(#smg)" fill-opacity="0.15" filter="url(#bls)"/>
<rect x="159.9" y="621.9" width="21" height="6.6" rx="3.3" fill="#000" fill-opacity="0.9" filter="url(#bl1)"/>
<rect x="161.4" y="623.55" width="18" height="3.3" rx="1.65" fill="#000" fill-opacity="0.72" filter="url(#bl0)"/>
<rect x="187.5" y="615.2" width="18" height="13.3" rx="6.67" ry="5" fill="url(#smg)" fill-opacity="0.12" filter="url(#bls)"/>
<rect x="186.5" y="621.9" width="20" height="6.6" rx="3.3" fill="#000" fill-opacity="0.75" filter="url(#bl1)"/>
<rect x="216" y="615" width="18" height="13.3" rx="6.67" ry="5" fill="url(#smg)" fill-opacity="0.12" filter="url(#bls)"/>
<rect x="215" y="621.7" width="20" height="6.6" rx="3.3" fill="#000" fill-opacity="0.75" filter="url(#bl1)"/>
<rect x="244.25" y="615" width="19" height="13.3" rx="7" ry="5" fill="url(#smg)" fill-opacity="0.12" filter="url(#bls)"/>
<rect x="243.25" y="621.7" width="21" height="6.6" rx="3.3" fill="#000" fill-opacity="0.72" filter="url(#bl1)"/>
<rect x="273.2" y="614.5" width="19" height="13.3" rx="7" ry="5" fill="url(#smg)" fill-opacity="0.42" filter="url(#bls)"/>
<rect x="272.2" y="621.2" width="21" height="6.6" rx="3.3" fill="#000" fill-opacity="0.62" filter="url(#bl1)"/>
<rect x="300.8" y="614.5" width="19" height="13.3" rx="7" ry="5" fill="url(#smg)" fill-opacity="0.3" filter="url(#bls)"/>
<rect x="299.8" y="621.2" width="21" height="6.6" rx="3.3" fill="#000" fill-opacity="0.82" filter="url(#bl1)"/>
<rect x="301.3" y="622.85" width="18" height="3.3" rx="1.65" fill="#000" fill-opacity="0.66" filter="url(#bl0)"/>
<rect x="329.6" y="614.8" width="19" height="13.3" rx="7" ry="5" fill="url(#smg)" fill-opacity="0.28" filter="url(#bls)"/>
<rect x="328.6" y="621.5" width="21" height="6.6" rx="3.3" fill="#000" fill-opacity="0.85" filter="url(#bl1)"/>
<rect x="330.1" y="623.15" width="18" height="3.3" rx="1.65" fill="#000" fill-opacity="0.68" filter="url(#bl0)"/>
<rect x="358.4" y="614.8" width="19" height="13.3" rx="7" ry="5" fill="url(#smg)" fill-opacity="0.22" filter="url(#bls)"/>
<rect x="357.4" y="621.5" width="21" height="6.6" rx="3.3" fill="#000" fill-opacity="0.88" filter="url(#bl1)"/>
<rect x="358.9" y="623.15" width="18" height="3.3" rx="1.65" fill="#000" fill-opacity="0.7" filter="url(#bl0)"/>
<rect x="386.7" y="614.8" width="19" height="13.3" rx="7" ry="5" fill="url(#smg)" fill-opacity="0.22" filter="url(#bls)"/>
<rect x="385.7" y="621.5" width="21" height="6.6" rx="3.3" fill="#000" fill-opacity="0.85" filter="url(#bl1)"/>
<rect x="387.2" y="623.15" width="18" height="3.3" rx="1.65" fill="#000" fill-opacity="0.68" filter="url(#bl0)"/>
<rect x="414.7" y="614.8" width="20" height="13.3" rx="7.33" ry="5" fill="url(#smg)" fill-opacity="0.22" filter="url(#bls)"/>
<rect x="413.7" y="621.5" width="22" height="6.6" rx="3.3" fill="#000" fill-opacity="0.88" filter="url(#bl1)"/>
<rect x="415.2" y="623.15" width="19" height="3.3" rx="1.65" fill="#000" fill-opacity="0.7" filter="url(#bl0)"/>
<rect x="98.3" y="638.9" width="343.3" height="28.4" fill="url(#bgg)"/>
<rect x="105.85" y="653.7" width="19.5" height="3.6" rx="1.8" fill="#000" fill-opacity="0.6" filter="url(#bl1)"/>
<rect x="132" y="654.2" width="20" height="3.6" rx="1.8" fill="#000" fill-opacity="0.52" filter="url(#bl1)"/>
<rect x="159.9" y="655" width="21" height="4" rx="2" fill="#000" fill-opacity="0.65" filter="url(#bl1)"/>
<rect x="186.5" y="655.7" width="20" height="3.6" rx="1.8" fill="#000" fill-opacity="0.4" filter="url(#bl1)"/>
<rect x="215" y="656.3" width="20" height="3.4" rx="1.7" fill="#000" fill-opacity="0.32" filter="url(#bl1)"/>
<rect x="243.25" y="655.7" width="21" height="3.6" rx="1.8" fill="#000" fill-opacity="0.4" filter="url(#bl1)"/>
<rect x="272.2" y="654" width="21" height="5" rx="2.5" fill="#000" fill-opacity="0.95" filter="url(#bl1)"/>
<rect x="273.7" y="655.25" width="18" height="2.5" rx="1.25" fill="#000" fill-opacity="0.76" filter="url(#bl0)"/>
<rect x="299.8" y="654" width="21" height="5" rx="2.5" fill="#000" fill-opacity="0.95" filter="url(#bl1)"/>
<rect x="301.3" y="655.25" width="18" height="2.5" rx="1.25" fill="#000" fill-opacity="0.76" filter="url(#bl0)"/>
<rect x="328.6" y="654.1" width="21" height="5.4" rx="2.7" fill="#000" fill-opacity="1" filter="url(#bl1)"/>
<rect x="330.1" y="655.45" width="18" height="2.7" rx="1.35" fill="#000" fill-opacity="0.8" filter="url(#bl0)"/>
<rect x="357.4" y="653.8" width="21" height="5" rx="2.5" fill="#000" fill-opacity="0.95" filter="url(#bl1)"/>
<rect x="358.9" y="655.05" width="18" height="2.5" rx="1.25" fill="#000" fill-opacity="0.76" filter="url(#bl0)"/>
<rect x="385.7" y="653" width="21" height="5" rx="2.5" fill="#000" fill-opacity="0.92" filter="url(#bl1)"/>
<rect x="387.2" y="654.25" width="18" height="2.5" rx="1.25" fill="#000" fill-opacity="0.74" filter="url(#bl0)"/>
<rect x="413.7" y="652.1" width="22" height="5.4" rx="2.7" fill="#000" fill-opacity="0.95" filter="url(#bl1)"/>
<rect x="415.2" y="653.45" width="19" height="2.7" rx="1.35" fill="#000" fill-opacity="0.76" filter="url(#bl0)"/>
<rect x="105.85" y="658.3" width="19.5" height="4.4" rx="2.2" fill="#000" fill-opacity="0.1" filter="url(#bl2)"/>
<rect x="132" y="658.3" width="20" height="4.4" rx="2.2" fill="#000" fill-opacity="0.1" filter="url(#bl2)"/>
<rect x="159.9" y="658.3" width="21" height="4.4" rx="2.2" fill="#000" fill-opacity="0.1" filter="url(#bl2)"/>
<rect x="186.5" y="658.3" width="20" height="4.4" rx="2.2" fill="#000" fill-opacity="0.1" filter="url(#bl2)"/>
<rect x="215" y="658.3" width="20" height="4.4" rx="2.2" fill="#000" fill-opacity="0.1" filter="url(#bl2)"/>
<rect x="243.25" y="658.3" width="21" height="4.4" rx="2.2" fill="#000" fill-opacity="0.1" filter="url(#bl2)"/>
<rect x="272.2" y="658.3" width="21" height="4.4" rx="2.2" fill="#000" fill-opacity="0.1" filter="url(#bl2)"/>
<rect x="299.8" y="658.3" width="21" height="4.4" rx="2.2" fill="#000" fill-opacity="0.1" filter="url(#bl2)"/>
<rect x="328.6" y="658.3" width="21" height="4.4" rx="2.2" fill="#000" fill-opacity="0.1" filter="url(#bl2)"/>
<rect x="357.4" y="658.3" width="21" height="4.4" rx="2.2" fill="#000" fill-opacity="0.22" filter="url(#bl2)"/>
<rect x="385.7" y="658.3" width="21" height="4.4" rx="2.2" fill="#000" fill-opacity="0.32" filter="url(#bl2)"/>
<rect x="413.7" y="658.3" width="22" height="4.4" rx="2.2" fill="#000" fill-opacity="0.32" filter="url(#bl2)"/>
<rect x="98.3" y="667.3" width="343.3" height="34.5" fill="url(#bgg)"/>
<rect x="105.85" y="684.7" width="19.5" height="5.6" rx="2.8" fill="#000" fill-opacity="1" filter="url(#bl1)"/>
<rect x="107.35" y="686.1" width="16.5" height="2.8" rx="1.4" fill="#000" fill-opacity="0.8" filter="url(#bl0)"/>
<rect x="132" y="685.2" width="20" height="5.6" rx="2.8" fill="#000" fill-opacity="1" filter="url(#bl1)"/>
<rect x="133.5" y="686.6" width="17" height="2.8" rx="1.4" fill="#000" fill-opacity="0.8" filter="url(#bl0)"/>
<rect x="159.9" y="685.2" width="21" height="5.6" rx="2.8" fill="#000" fill-opacity="1" filter="url(#bl1)"/>
<rect x="161.4" y="686.6" width="18" height="2.8" rx="1.4" fill="#000" fill-opacity="0.8" filter="url(#bl0)"/>
<rect x="186.5" y="685.7" width="20" height="5.6" rx="2.8" fill="#000" fill-opacity="0.95" filter="url(#bl1)"/>
<rect x="188" y="687.1" width="17" height="2.8" rx="1.4" fill="#000" fill-opacity="0.76" filter="url(#bl0)"/>
<rect x="215" y="685.7" width="20" height="5.6" rx="2.8" fill="#000" fill-opacity="0.95" filter="url(#bl1)"/>
<rect x="216.5" y="687.1" width="17" height="2.8" rx="1.4" fill="#000" fill-opacity="0.76" filter="url(#bl0)"/>
<rect x="243.25" y="685.7" width="21" height="5.6" rx="2.8" fill="#000" fill-opacity="0.95" filter="url(#bl1)"/>
<rect x="244.75" y="687.1" width="18" height="2.8" rx="1.4" fill="#000" fill-opacity="0.76" filter="url(#bl0)"/>
<rect x="272.2" y="685" width="21" height="5.6" rx="2.8" fill="#000" fill-opacity="0.95" filter="url(#bl1)"/>
<rect x="273.7" y="686.4" width="18" height="2.8" rx="1.4" fill="#000" fill-opacity="0.76" filter="url(#bl0)"/>
<rect x="299.8" y="685" width="21" height="5.6" rx="2.8" fill="#000" fill-opacity="0.95" filter="url(#bl1)"/>
<rect x="301.3" y="686.4" width="18" height="2.8" rx="1.4" fill="#000" fill-opacity="0.76" filter="url(#bl0)"/>
<rect x="328.6" y="685.2" width="21" height="5.6" rx="2.8" fill="#000" fill-opacity="0.95" filter="url(#bl1)"/>
<rect x="330.1" y="686.6" width="18" height="2.8" rx="1.4" fill="#000" fill-opacity="0.76" filter="url(#bl0)"/>
<rect x="357.4" y="685" width="21" height="5.6" rx="2.8" fill="#000" fill-opacity="0.95" filter="url(#bl1)"/>
<rect x="358.9" y="686.4" width="18" height="2.8" rx="1.4" fill="#000" fill-opacity="0.76" filter="url(#bl0)"/>
<rect x="385.7" y="684.4" width="21" height="5.6" rx="2.8" fill="#000" fill-opacity="0.85" filter="url(#bl1)"/>
<rect x="387.2" y="685.8" width="18" height="2.8" rx="1.4" fill="#000" fill-opacity="0.68" filter="url(#bl0)"/>
<rect x="413.7" y="683.8" width="22" height="5.6" rx="2.8" fill="#000" fill-opacity="0.85" filter="url(#bl1)"/>
<rect x="415.2" y="685.2" width="19" height="2.8" rx="1.4" fill="#000" fill-opacity="0.68" filter="url(#bl0)"/>
<rect x="98.3" y="701.8" width="343.3" height="27.7" fill="url(#bgg)"/>
<rect x="105.85" y="712.3" width="19.5" height="5.4" rx="2.7" fill="#000" fill-opacity="0.88" filter="url(#bl1)"/>
<rect x="107.35" y="713.65" width="16.5" height="2.7" rx="1.35" fill="#000" fill-opacity="0.7" filter="url(#bl0)"/>
<rect x="132" y="712.8" width="20" height="5.4" rx="2.7" fill="#000" fill-opacity="0.93" filter="url(#bl1)"/>
<rect x="133.5" y="714.15" width="17" height="2.7" rx="1.35" fill="#000" fill-opacity="0.74" filter="url(#bl0)"/>
<rect x="159.9" y="712.8" width="21" height="5.4" rx="2.7" fill="#000" fill-opacity="0.93" filter="url(#bl1)"/>
<rect x="161.4" y="714.15" width="18" height="2.7" rx="1.35" fill="#000" fill-opacity="0.74" filter="url(#bl0)"/>
<rect x="186.5" y="712.8" width="20" height="5.4" rx="2.7" fill="#000" fill-opacity="0.93" filter="url(#bl1)"/>
<rect x="188" y="714.15" width="17" height="2.7" rx="1.35" fill="#000" fill-opacity="0.74" filter="url(#bl0)"/>
<rect x="215" y="712.3" width="20" height="5.4" rx="2.7" fill="#000" fill-opacity="0.82" filter="url(#bl1)"/>
<rect x="216.5" y="713.65" width="17" height="2.7" rx="1.35" fill="#000" fill-opacity="0.66" filter="url(#bl0)"/>
<rect x="243.25" y="711.8" width="21" height="5.4" rx="2.7" fill="#000" fill-opacity="0.72" filter="url(#bl1)"/>
<rect x="272.2" y="711.8" width="21" height="5.4" rx="2.7" fill="#000" fill-opacity="0.82" filter="url(#bl1)"/>
<rect x="273.7" y="713.15" width="18" height="2.7" rx="1.35" fill="#000" fill-opacity="0.66" filter="url(#bl0)"/>
<rect x="299.8" y="711.8" width="21" height="5.4" rx="2.7" fill="#000" fill-opacity="0.88" filter="url(#bl1)"/>
<rect x="301.3" y="713.15" width="18" height="2.7" rx="1.35" fill="#000" fill-opacity="0.7" filter="url(#bl0)"/>
<rect x="328.6" y="712.1" width="21" height="5.4" rx="2.7" fill="#000" fill-opacity="0.88" filter="url(#bl1)"/>
<rect x="330.1" y="713.45" width="18" height="2.7" rx="1.35" fill="#000" fill-opacity="0.7" filter="url(#bl0)"/>
<rect x="357.4" y="712.3" width="21" height="5.4" rx="2.7" fill="#000" fill-opacity="0.93" filter="url(#bl1)"/>
<rect x="358.9" y="713.65" width="18" height="2.7" rx="1.35" fill="#000" fill-opacity="0.74" filter="url(#bl0)"/>
<rect x="385.7" y="712.3" width="21" height="5.4" rx="2.7" fill="#000" fill-opacity="0.88" filter="url(#bl1)"/>
<rect x="387.2" y="713.65" width="18" height="2.7" rx="1.35" fill="#000" fill-opacity="0.7" filter="url(#bl0)"/>
<rect x="413.7" y="712.7" width="22" height="5.4" rx="2.7" fill="#000" fill-opacity="0.95" filter="url(#bl1)"/>
<rect x="415.2" y="714.05" width="19" height="2.7" rx="1.35" fill="#000" fill-opacity="0.76" filter="url(#bl0)"/>
</svg>
<line x1="98.3" y1="600.6" x2="441.6" y2="600.6" stroke="#1a1a1a" stroke-width="1.3"/>
<line x1="98.3" y1="638.9" x2="441.6" y2="638.9" stroke="#1a1a1a" stroke-width="1.3"/>
<line x1="98.3" y1="667.3" x2="441.6" y2="667.3" stroke="#1a1a1a" stroke-width="1.3"/>
<line x1="98.3" y1="701.8" x2="441.6" y2="701.8" stroke="#1a1a1a" stroke-width="1.3"/>
<rect x="98.85" y="561.85" width="342.2" height="167.1" fill="none" stroke="#3a3a3a" stroke-width="1.1"/>
<text x="27.3" y="26" font-size="17.5" font-weight="bold" text-anchor="start" fill="#000">A</text>
<text x="147.5" y="9.3" font-size="11.2" font-weight="bold" text-anchor="middle" fill="#000">GAS</text>
<text x="110" y="24" font-size="10.5" font-weight="normal" text-anchor="middle" fill="#000">WT</text>
<text x="189.4" y="24" font-size="10" font-weight="normal" text-anchor="middle" fill="#000">CaMKK2 KO</text>
<line x1="69.2" y1="26.6" x2="146" y2="26.6" stroke="#000" stroke-width="1.3"/>
<line x1="151" y1="26.6" x2="228.8" y2="26.6" stroke="#000" stroke-width="1.3"/>
<text x="244.5" y="27.4" font-size="10" font-weight="normal" text-anchor="middle" fill="#000">MW</text>
<text x="245" y="39.3" font-size="10" font-weight="normal" text-anchor="middle" fill="#000">(kDa)</text>
<text x="57.9" y="50.4" font-size="10.3" font-weight="bold" text-anchor="end" fill="#000">LKB1</text>
<text x="60.5" y="81.2" font-size="10.3" font-weight="bold" text-anchor="end" fill="#000">AMPKα</text>
<text x="60.5" y="116.4" font-size="10.3" font-weight="bold" text-anchor="end" fill="#000">AMPKα1</text>
<text x="60.6" y="154" font-size="10.3" font-weight="bold" text-anchor="end" fill="#000">AMPKα2</text>
<text x="60.1" y="186.8" font-size="10.3" font-weight="bold" text-anchor="end" fill="#000">AMPKβ1/2</text>
<text x="58.1" y="222" font-size="10.3" font-weight="bold" text-anchor="end" fill="#000">AMPKγ1</text>
<text x="58.5" y="254.3" font-size="10.3" font-weight="bold" text-anchor="end" fill="#000">AMPKγ3</text>
<text x="58.1" y="281.7" font-size="10.3" font-weight="bold" text-anchor="end" fill="#000">Vinculin</text>
<line x1="229.6" y1="58.4" x2="235.3" y2="58.4" stroke="#000" stroke-width="1.1"/>
<text x="236" y="61.9" font-size="9.6" font-weight="normal" text-anchor="start" fill="#000">50</text>
<line x1="229.6" y1="92.3" x2="235.3" y2="92.3" stroke="#000" stroke-width="1.1"/>
<text x="236" y="95.8" font-size="9.6" font-weight="normal" text-anchor="start" fill="#000">50</text>
<line x1="229.6" y1="127.6" x2="235.3" y2="127.6" stroke="#000" stroke-width="1.1"/>
<text x="236" y="131.1" font-size="9.6" font-weight="normal" text-anchor="start" fill="#000">50</text>
<line x1="229.6" y1="165.3" x2="235.3" y2="165.3" stroke="#000" stroke-width="1.1"/>
<text x="236" y="168.8" font-size="9.6" font-weight="normal" text-anchor="start" fill="#000">50</text>
<line x1="229.6" y1="201.1" x2="235.3" y2="201.1" stroke="#000" stroke-width="1.1"/>
<text x="236" y="204.6" font-size="9.6" font-weight="normal" text-anchor="start" fill="#000">25</text>
<line x1="229.6" y1="215.1" x2="235.3" y2="215.1" stroke="#000" stroke-width="1.1"/>
<text x="236" y="218.6" font-size="9.6" font-weight="normal" text-anchor="start" fill="#000">37</text>
<line x1="229.6" y1="238.9" x2="235.3" y2="238.9" stroke="#000" stroke-width="1.1"/>
<text x="236" y="242.4" font-size="9.6" font-weight="normal" text-anchor="start" fill="#000">75</text>
<line x1="229.6" y1="267.5" x2="235.3" y2="267.5" stroke="#000" stroke-width="1.1"/>
<text x="236" y="271" font-size="9.6" font-weight="normal" text-anchor="start" fill="#000">150</text>
<line x1="229.6" y1="290.6" x2="235.3" y2="290.6" stroke="#000" stroke-width="1.1"/>
<text x="236" y="294.1" font-size="9.6" font-weight="normal" text-anchor="start" fill="#000">100</text>
<text x="308" y="28.8" font-size="15.8" font-weight="bold" text-anchor="start" fill="#000">B</text>
<text x="540" y="40" font-size="11.8" font-weight="bold" text-anchor="middle" fill="#000">EDL</text>
<text x="452.6" y="56.8" font-size="11" font-weight="bold" text-anchor="middle" fill="#000">Basal</text>
<text x="624" y="57" font-size="11" font-weight="bold" text-anchor="middle" fill="#000">Contracted</text>
<line x1="363.7" y1="64.3" x2="535.8" y2="64.3" stroke="#000" stroke-width="1.3"/>
<line x1="540.5" y1="64.3" x2="715" y2="64.3" stroke="#000" stroke-width="1.3"/>
<text x="408.75" y="78.8" font-size="11" font-weight="normal" text-anchor="middle" fill="#000">WT</text>
<text x="495.6" y="78.8" font-size="11" font-weight="normal" text-anchor="middle" fill="#000">CaMKK2 KO</text>
<text x="583.2" y="78.8" font-size="11" font-weight="normal" text-anchor="middle" fill="#000">WT</text>
<text x="673.7" y="78.8" font-size="11" font-weight="normal" text-anchor="middle" fill="#000">CaMKK2 KO</text>
<line x1="363.7" y1="83" x2="447.5" y2="83" stroke="#000" stroke-width="1.3"/>
<line x1="452.5" y1="83" x2="536" y2="83" stroke="#000" stroke-width="1.3"/>
<line x1="540.5" y1="83" x2="624.3" y2="83" stroke="#000" stroke-width="1.3"/>
<line x1="629.3" y1="83" x2="715" y2="83" stroke="#000" stroke-width="1.3"/>
<text x="735.5" y="64.5" font-size="11.2" font-weight="normal" text-anchor="middle" fill="#000">MW</text>
<text x="734.8" y="76.2" font-size="11.2" font-weight="normal" text-anchor="middle" fill="#000">(kDa)</text>
<text x="359.2" y="116.4" font-size="11.2" font-weight="bold" text-anchor="end" fill="#000">pThr172-AMPKα</text>
<text x="359.2" y="154.3" font-size="11.2" font-weight="bold" text-anchor="end" fill="#000">AMPKα</text>
<text x="359.2" y="190.9" font-size="11.2" font-weight="bold" text-anchor="end" fill="#000">pSer212-ACC2</text>
<text x="359.2" y="221.7" font-size="11.2" font-weight="bold" text-anchor="end" fill="#000">ACC2</text>
<text x="359.2" y="245.6" font-size="11.2" font-weight="bold" text-anchor="end" fill="#000">Vinculin</text>
<line x1="715.6" y1="91.9" x2="722" y2="91.9" stroke="#000" stroke-width="1.1"/>
<text x="723.8" y="95.8" font-size="11" font-weight="normal" text-anchor="start" fill="#000">75</text>
<line x1="715.6" y1="138.7" x2="722" y2="138.7" stroke="#000" stroke-width="1.1"/>
<text x="723.8" y="142.6" font-size="11" font-weight="normal" text-anchor="start" fill="#000">75</text>
<line x1="715.6" y1="198.8" x2="722" y2="198.8" stroke="#000" stroke-width="1.1"/>
<text x="723.8" y="202.7" font-size="11" font-weight="normal" text-anchor="start" fill="#000">250</text>
<line x1="715.6" y1="221.3" x2="722" y2="221.3" stroke="#000" stroke-width="1.1"/>
<text x="723.8" y="225.2" font-size="11" font-weight="normal" text-anchor="start" fill="#000">250</text>
<line x1="715.6" y1="252" x2="722" y2="252" stroke="#000" stroke-width="1.1"/>
<text x="723.8" y="255.9" font-size="11" font-weight="normal" text-anchor="start" fill="#000">100</text>
<text x="31" y="529.2" font-size="17" font-weight="bold" text-anchor="start" fill="#000">G</text>
<text x="265.5" y="518.5" font-size="12" font-weight="bold" text-anchor="middle" fill="#000">Soleus</text>
<text x="184" y="528" font-size="10.8" font-weight="bold" text-anchor="middle" fill="#000">Basal</text>
<text x="354" y="527.6" font-size="10.8" font-weight="bold" text-anchor="middle" fill="#000">Contracted</text>
<line x1="98.3" y1="535" x2="264.5" y2="535" stroke="#000" stroke-width="1.3"/>
<line x1="270.5" y1="535" x2="440.7" y2="535" stroke="#000" stroke-width="1.3"/>
<text x="144.4" y="549.5" font-size="10.6" font-weight="normal" text-anchor="middle" fill="#000">WT</text>
<text x="227.8" y="549.5" font-size="10.6" font-weight="normal" text-anchor="middle" fill="#000">CaMKK2 KO</text>
<text x="311.5" y="549.5" font-size="10.6" font-weight="normal" text-anchor="middle" fill="#000">WT</text>
<text x="399" y="549.5" font-size="10.6" font-weight="normal" text-anchor="middle" fill="#000">CaMKK2 KO</text>
<line x1="98.3" y1="553" x2="181.3" y2="553" stroke="#000" stroke-width="1.3"/>
<line x1="189.3" y1="553" x2="265.8" y2="553" stroke="#000" stroke-width="1.3"/>
<line x1="270.5" y1="553" x2="350" y2="553" stroke="#000" stroke-width="1.3"/>
<line x1="355.8" y1="553" x2="440.7" y2="553" stroke="#000" stroke-width="1.3"/>
<text x="461.4" y="534.7" font-size="11" font-weight="normal" text-anchor="middle" fill="#000">MW</text>
<text x="460.4" y="547.4" font-size="11" font-weight="normal" text-anchor="middle" fill="#000">(kDa)</text>
<text x="90" y="588.2" font-size="10.5" font-weight="bold" text-anchor="end" fill="#000">pThr172-AMPKα</text>
<text x="90" y="622.4" font-size="10.5" font-weight="bold" text-anchor="end" fill="#000">AMPKα</text>
<text x="90" y="656" font-size="10.5" font-weight="bold" text-anchor="end" fill="#000">pSer212-ACC2</text>
<text x="90" y="687.9" font-size="10.5" font-weight="bold" text-anchor="end" fill="#000">ACC2</text>
<text x="90" y="718.3" font-size="10.5" font-weight="bold" text-anchor="end" fill="#000">Tubulin</text>
<line x1="441.6" y1="561" x2="448" y2="561" stroke="#000" stroke-width="1.1"/>
<text x="449.5" y="565" font-size="10.8" font-weight="normal" text-anchor="start" fill="#000">75</text>
<line x1="441.6" y1="600.9" x2="448" y2="600.9" stroke="#000" stroke-width="1.1"/>
<text x="449.5" y="604.9" font-size="10.8" font-weight="normal" text-anchor="start" fill="#000">75</text>
<line x1="441.6" y1="660.3" x2="448" y2="660.3" stroke="#000" stroke-width="1.1"/>
<text x="449.5" y="664.3" font-size="10.8" font-weight="normal" text-anchor="start" fill="#000">250</text>
<line x1="441.6" y1="692" x2="448" y2="692" stroke="#000" stroke-width="1.1"/>
<text x="449.5" y="696" font-size="10.8" font-weight="normal" text-anchor="start" fill="#000">250</text>
<line x1="441.6" y1="728.4" x2="448" y2="728.4" stroke="#000" stroke-width="1.1"/>
<text x="449.5" y="732.4" font-size="10.8" font-weight="normal" text-anchor="start" fill="#000">50</text>
<rect x="79.7" y="444.2" width="15.3" height="23.2" fill="#8a8482" stroke="#000000" stroke-width="1.8"/>
<line x1="87.35" y1="441.6" x2="87.35" y2="445" stroke="#000000" stroke-width="1.0"/>
<line x1="83.05" y1="441.6" x2="91.65" y2="441.6" stroke="#000000" stroke-width="1.0"/>
<line x1="83.05" y1="445" x2="91.65" y2="445" stroke="#000000" stroke-width="1.0"/>
<circle cx="83.3" cy="440.6" r="2.0" fill="#464646"/>
<circle cx="90.9" cy="442" r="2.0" fill="#464646"/>
<circle cx="83.3" cy="446.3" r="2.0" fill="#464646"/>
<rect x="105.6" y="455.1" width="15.4" height="12.3" fill="#90abca" stroke="#0a3b57" stroke-width="1.8"/>
<line x1="113.3" y1="451.4" x2="113.3" y2="457" stroke="#0a3b57" stroke-width="1.0"/>
<line x1="109" y1="451.4" x2="117.6" y2="451.4" stroke="#0a3b57" stroke-width="1.0"/>
<line x1="109" y1="457" x2="117.6" y2="457" stroke="#0a3b57" stroke-width="1.0"/>
<circle cx="113" cy="450.1" r="2.0" fill="#2a86c2"/>
<circle cx="117.2" cy="454.6" r="2.0" fill="#2a86c2"/>
<circle cx="109.2" cy="457.4" r="2.0" fill="#2a86c2"/>
<rect x="149.2" y="371.1" width="14.5" height="96.3" fill="#8a8482" stroke="#000000" stroke-width="1.8"/>
<line x1="156.45" y1="359.4" x2="156.45" y2="380.7" stroke="#000000" stroke-width="1.0"/>
<line x1="152.15" y1="359.4" x2="160.75" y2="359.4" stroke="#000000" stroke-width="1.0"/>
<line x1="152.15" y1="380.7" x2="160.75" y2="380.7" stroke="#000000" stroke-width="1.0"/>
<circle cx="156.45" cy="353.4" r="2.0" fill="#464646"/>
<circle cx="156.45" cy="367" r="2.0" fill="#464646"/>
<circle cx="156.45" cy="390" r="2.0" fill="#464646"/>
<polygon points="156.45,341.45 157.07,343.10 158.83,343.18 157.45,344.27 157.92,345.97 156.45,345.00 154.98,345.97 155.45,344.27 154.07,343.18 155.83,343.10" fill="#000"/>
<rect x="175.1" y="365.8" width="15.1" height="101.6" fill="#90abca" stroke="#0a3b57" stroke-width="1.8"/>
<line x1="182.65" y1="354.3" x2="182.65" y2="375.3" stroke="#0a3b57" stroke-width="1.0"/>
<line x1="178.35" y1="354.3" x2="186.95" y2="354.3" stroke="#0a3b57" stroke-width="1.0"/>
<line x1="178.35" y1="375.3" x2="186.95" y2="375.3" stroke="#0a3b57" stroke-width="1.0"/>
<circle cx="182.65" cy="344.7" r="2.0" fill="#2a86c2"/>
<circle cx="182.65" cy="369.3" r="2.0" fill="#2a86c2"/>
<circle cx="182.65" cy="381" r="2.0" fill="#2a86c2"/>
<polygon points="182.65,333.75 183.27,335.40 185.03,335.48 183.65,336.57 184.12,338.27 182.65,337.30 181.18,338.27 181.65,336.57 180.27,335.48 182.03,335.40" fill="#000"/>
<line x1="69.9" y1="336.7" x2="69.9" y2="468.1" stroke="#000" stroke-width="1.4"/>
<line x1="69.2" y1="467.4" x2="196.8" y2="467.4" stroke="#000" stroke-width="1.4"/>
<line x1="65.1" y1="337.1" x2="69.9" y2="337.1" stroke="#000" stroke-width="1.1"/>
<text x="62.6" y="340.5" font-size="9.5" font-weight="normal" text-anchor="end" fill="#000">5</text>
<line x1="65.1" y1="363.2" x2="69.9" y2="363.2" stroke="#000" stroke-width="1.1"/>
<text x="62.6" y="366.6" font-size="9.5" font-weight="normal" text-anchor="end" fill="#000">4</text>
<line x1="65.1" y1="389.2" x2="69.9" y2="389.2" stroke="#000" stroke-width="1.1"/>
<text x="62.6" y="392.6" font-size="9.5" font-weight="normal" text-anchor="end" fill="#000">3</text>
<line x1="65.1" y1="415.3" x2="69.9" y2="415.3" stroke="#000" stroke-width="1.1"/>
<text x="62.6" y="418.7" font-size="9.5" font-weight="normal" text-anchor="end" fill="#000">2</text>
<line x1="65.1" y1="441.4" x2="69.9" y2="441.4" stroke="#000" stroke-width="1.1"/>
<text x="62.6" y="444.8" font-size="9.5" font-weight="normal" text-anchor="end" fill="#000">1</text>
<line x1="65.1" y1="467.4" x2="69.9" y2="467.4" stroke="#000" stroke-width="1.1"/>
<text x="62.6" y="470.8" font-size="9.5" font-weight="normal" text-anchor="end" fill="#000">0</text>
<line x1="100.2" y1="467.4" x2="100.2" y2="472.4" stroke="#000" stroke-width="1.1"/>
<line x1="169.6" y1="467.4" x2="169.6" y2="472.4" stroke="#000" stroke-width="1.1"/>
<text x="100.2" y="484" font-size="10" font-weight="normal" text-anchor="middle" fill="#000">Basal</text>
<text x="169.6" y="484" font-size="10" font-weight="normal" text-anchor="middle" fill="#000">Contracted</text>
<rect x="76.8" y="337.3" width="63.7" height="31.3" fill="#fff" stroke="#3c3c3c" stroke-width="0.9"/>
<rect x="81.8" y="341.9" width="9" height="8.28" fill="#444446" stroke="none" stroke-width="1.0"/>
<rect x="81.8" y="355.1" width="9" height="8.28" fill="#17729f" stroke="none" stroke-width="1.0"/>
<text x="95.6" y="348.6" font-size="7.7" font-weight="normal" text-anchor="start" fill="#000" letter-spacing="-0.15">WT</text>
<text x="95.6" y="360.8" font-size="7.7" font-weight="normal" text-anchor="start" fill="#000" letter-spacing="-0.15">CaMKK2 KO</text>
<text x="39.8" y="402.5" font-size="9.5" font-weight="normal" text-anchor="middle" fill="#000" transform="rotate(-90 39.8 402.5)">pThr172-AMPKα / AMPKα</text>
<text x="49.2" y="402.5" font-size="9.4" font-weight="normal" text-anchor="middle" fill="#000" transform="rotate(-90 49.2 402.5)">(arbitrary units)</text>
<text x="31.4" y="321.3" font-size="16.5" font-weight="bold" text-anchor="start" fill="#000">C</text>
<rect x="267.1" y="454.1" width="15.7" height="13.2" fill="#8a8482" stroke="#000000" stroke-width="1.8"/>
<line x1="274.95" y1="451.7" x2="274.95" y2="454.2" stroke="#000000" stroke-width="1.0"/>
<line x1="270.65" y1="451.7" x2="279.25" y2="451.7" stroke="#000000" stroke-width="1.0"/>
<line x1="270.65" y1="454.2" x2="279.25" y2="454.2" stroke="#000000" stroke-width="1.0"/>
<circle cx="271" cy="449.4" r="2.0" fill="#464646"/>
<circle cx="278.4" cy="452.1" r="2.0" fill="#464646"/>
<circle cx="271" cy="456.3" r="2.0" fill="#464646"/>
<rect x="293" y="455.5" width="15.7" height="11.8" fill="#90abca" stroke="#0a3b57" stroke-width="1.8"/>
<line x1="300.85" y1="452.1" x2="300.85" y2="455" stroke="#0a3b57" stroke-width="1.0"/>
<line x1="296.55" y1="452.1" x2="305.15" y2="452.1" stroke="#0a3b57" stroke-width="1.0"/>
<line x1="296.55" y1="455" x2="305.15" y2="455" stroke="#0a3b57" stroke-width="1.0"/>
<circle cx="301.2" cy="450" r="2.0" fill="#2a86c2"/>
<circle cx="304.7" cy="455.3" r="2.0" fill="#2a86c2"/>
<circle cx="296.9" cy="457.4" r="2.0" fill="#2a86c2"/>
<rect x="336.6" y="391.3" width="15" height="76" fill="#8a8482" stroke="#000000" stroke-width="1.8"/>
<line x1="344.1" y1="379.5" x2="344.1" y2="401.6" stroke="#000000" stroke-width="1.0"/>
<line x1="339.8" y1="379.5" x2="348.4" y2="379.5" stroke="#000000" stroke-width="1.0"/>
<line x1="339.8" y1="401.6" x2="348.4" y2="401.6" stroke="#000000" stroke-width="1.0"/>
<circle cx="343.7" cy="369" r="2.0" fill="#464646"/>
<circle cx="347.5" cy="398.4" r="2.0" fill="#464646"/>
<circle cx="339.9" cy="401.6" r="2.0" fill="#464646"/>
<polygon points="344.10,357.15 344.72,358.80 346.48,358.88 345.10,359.97 345.57,361.67 344.10,360.70 342.63,361.67 343.10,359.97 341.72,358.88 343.48,358.80" fill="#000"/>
<rect x="362.5" y="381.9" width="15" height="85.4" fill="#90abca" stroke="#0a3b57" stroke-width="1.8"/>
<line x1="370" y1="370.4" x2="370" y2="390.4" stroke="#0a3b57" stroke-width="1.0"/>
<line x1="365.7" y1="370.4" x2="374.3" y2="370.4" stroke="#0a3b57" stroke-width="1.0"/>
<line x1="365.7" y1="390.4" x2="374.3" y2="390.4" stroke="#0a3b57" stroke-width="1.0"/>
<circle cx="370" cy="361" r="2.0" fill="#2a86c2"/>
<circle cx="370" cy="386.8" r="2.0" fill="#2a86c2"/>
<circle cx="370" cy="393.2" r="2.0" fill="#2a86c2"/>
<polygon points="370.00,348.65 370.62,350.30 372.38,350.38 371.00,351.47 371.47,353.17 370.00,352.20 368.53,353.17 369.00,351.47 367.62,350.38 369.38,350.30" fill="#000"/>
<line x1="257.4" y1="338" x2="257.4" y2="468" stroke="#000" stroke-width="1.4"/>
<line x1="256.7" y1="467.3" x2="386.8" y2="467.3" stroke="#000" stroke-width="1.4"/>
<line x1="252.6" y1="338.4" x2="257.4" y2="338.4" stroke="#000" stroke-width="1.1"/>
<text x="250.1" y="341.8" font-size="9.5" font-weight="normal" text-anchor="end" fill="#000">1.5</text>
<line x1="252.6" y1="381.2" x2="257.4" y2="381.2" stroke="#000" stroke-width="1.1"/>
<text x="250.1" y="384.6" font-size="9.5" font-weight="normal" text-anchor="end" fill="#000">1.0</text>
<line x1="252.6" y1="424.3" x2="257.4" y2="424.3" stroke="#000" stroke-width="1.1"/>
<text x="250.1" y="427.7" font-size="9.5" font-weight="normal" text-anchor="end" fill="#000">0.5</text>
<line x1="252.6" y1="467.3" x2="257.4" y2="467.3" stroke="#000" stroke-width="1.1"/>
<text x="250.1" y="470.7" font-size="9.5" font-weight="normal" text-anchor="end" fill="#000">0</text>
<line x1="287.9" y1="467.3" x2="287.9" y2="472.3" stroke="#000" stroke-width="1.1"/>
<line x1="356.7" y1="467.3" x2="356.7" y2="472.3" stroke="#000" stroke-width="1.1"/>
<text x="287.9" y="483.5" font-size="10" font-weight="normal" text-anchor="middle" fill="#000">Basal</text>
<text x="356.7" y="483.5" font-size="10" font-weight="normal" text-anchor="middle" fill="#000">Contracted</text>
<rect x="264.7" y="337.4" width="63.8" height="32" fill="#fff" stroke="#3c3c3c" stroke-width="0.9"/>
<rect x="269.7" y="342" width="9" height="8.28" fill="#444446" stroke="none" stroke-width="1.0"/>
<rect x="269.7" y="355.2" width="9" height="8.28" fill="#17729f" stroke="none" stroke-width="1.0"/>
<text x="283.5" y="348.7" font-size="7.7" font-weight="normal" text-anchor="start" fill="#000" letter-spacing="-0.15">WT</text>
<text x="283.5" y="360.9" font-size="7.7" font-weight="normal" text-anchor="start" fill="#000" letter-spacing="-0.15">CaMKK2 KO</text>
<text x="220.1" y="402.5" font-size="9.5" font-weight="normal" text-anchor="middle" fill="#000" transform="rotate(-90 220.1 402.5)">pSer212-ACC2 / ACC2</text>
<text x="230.8" y="402.3" font-size="9.4" font-weight="normal" text-anchor="middle" fill="#000" transform="rotate(-90 230.8 402.3)">(arbitrary units)</text>
<text x="227.4" y="321.3" font-size="16.5" font-weight="bold" text-anchor="start" fill="#000">D</text>
<rect x="451.3" y="451.9" width="15" height="16" fill="#8a8482" stroke="#000000" stroke-width="1.8"/>
<line x1="458.8" y1="449.8" x2="458.8" y2="452.5" stroke="#000000" stroke-width="1.0"/>
<line x1="454.5" y1="449.8" x2="463.1" y2="449.8" stroke="#000000" stroke-width="1.0"/>
<line x1="454.5" y1="452.5" x2="463.1" y2="452.5" stroke="#000000" stroke-width="1.0"/>
<circle cx="453" cy="449.3" r="2.0" fill="#464646"/>
<circle cx="456.5" cy="450.6" r="2.0" fill="#464646"/>
<circle cx="460.5" cy="450.3" r="2.0" fill="#464646"/>
<circle cx="464.5" cy="450.7" r="2.0" fill="#464646"/>
<circle cx="455" cy="454.8" r="2.0" fill="#464646"/>
<circle cx="461" cy="452.8" r="2.0" fill="#464646"/>
<rect x="477" y="452.6" width="15.4" height="15.3" fill="#90abca" stroke="#0a3b57" stroke-width="1.8"/>
<line x1="484.7" y1="450" x2="484.7" y2="453.4" stroke="#0a3b57" stroke-width="1.0"/>
<line x1="480.4" y1="450" x2="489" y2="450" stroke="#0a3b57" stroke-width="1.0"/>
<line x1="480.4" y1="453.4" x2="489" y2="453.4" stroke="#0a3b57" stroke-width="1.0"/>
<circle cx="478.2" cy="451" r="2.0" fill="#2a86c2"/>
<circle cx="482.2" cy="448.9" r="2.0" fill="#2a86c2"/>
<circle cx="486.6" cy="448.8" r="2.0" fill="#2a86c2"/>
<circle cx="490.6" cy="451.3" r="2.0" fill="#2a86c2"/>
<circle cx="484" cy="452.6" r="2.0" fill="#2a86c2"/>
<circle cx="488" cy="450.8" r="2.0" fill="#2a86c2"/>
<rect x="521.2" y="397.2" width="14.6" height="70.7" fill="#8a8482" stroke="#000000" stroke-width="1.8"/>
<line x1="528.5" y1="389.6" x2="528.5" y2="402.6" stroke="#000000" stroke-width="1.0"/>
<line x1="524.2" y1="389.6" x2="532.8" y2="389.6" stroke="#000000" stroke-width="1.0"/>
<line x1="524.2" y1="402.6" x2="532.8" y2="402.6" stroke="#000000" stroke-width="1.0"/>
<circle cx="528.5" cy="371.7" r="2.0" fill="#464646"/>
<circle cx="528.5" cy="386.8" r="2.0" fill="#464646"/>
<circle cx="528.5" cy="394.8" r="2.0" fill="#464646"/>
<circle cx="528.5" cy="399.5" r="2.0" fill="#464646"/>
<circle cx="528.5" cy="406.8" r="2.0" fill="#464646"/>
<circle cx="528.5" cy="416.3" r="2.0" fill="#464646"/>
<polygon points="528.50,357.65 529.12,359.30 530.88,359.38 529.50,360.47 529.97,362.17 528.50,361.20 527.03,362.17 527.50,360.47 526.12,359.38 527.88,359.30" fill="#000"/>
<rect x="546.4" y="394.1" width="14.4" height="73.8" fill="#90abca" stroke="#0a3b57" stroke-width="1.8"/>
<line x1="553.6" y1="386.4" x2="553.6" y2="399.5" stroke="#0a3b57" stroke-width="1.0"/>
<line x1="549.3" y1="386.4" x2="557.9" y2="386.4" stroke="#0a3b57" stroke-width="1.0"/>
<line x1="549.3" y1="399.5" x2="557.9" y2="399.5" stroke="#0a3b57" stroke-width="1.0"/>
<circle cx="553.5" cy="371" r="2.0" fill="#2a86c2"/>
<circle cx="553.5" cy="377.4" r="2.0" fill="#2a86c2"/>
<circle cx="553.5" cy="391.5" r="2.0" fill="#2a86c2"/>
<circle cx="553.5" cy="398.4" r="2.0" fill="#2a86c2"/>
<circle cx="549.7" cy="408.5" r="2.0" fill="#2a86c2"/>
<circle cx="557.7" cy="407.9" r="2.0" fill="#2a86c2"/>
<polygon points="553.60,357.65 554.22,359.30 555.98,359.38 554.60,360.47 555.07,362.17 553.60,361.20 552.13,362.17 552.60,360.47 551.22,359.38 552.98,359.30" fill="#000"/>
<line x1="441.2" y1="338" x2="441.2" y2="468.6" stroke="#000" stroke-width="1.4"/>
<line x1="440.5" y1="467.9" x2="570.8" y2="467.9" stroke="#000" stroke-width="1.4"/>
<line x1="436.4" y1="338.4" x2="441.2" y2="338.4" stroke="#000" stroke-width="1.1"/>
<text x="433.9" y="341.8" font-size="9.5" font-weight="normal" text-anchor="end" fill="#000">200</text>
<line x1="436.4" y1="370.6" x2="441.2" y2="370.6" stroke="#000" stroke-width="1.1"/>
<text x="433.9" y="374" font-size="9.5" font-weight="normal" text-anchor="end" fill="#000">150</text>
<line x1="436.4" y1="403.3" x2="441.2" y2="403.3" stroke="#000" stroke-width="1.1"/>
<text x="433.9" y="406.7" font-size="9.5" font-weight="normal" text-anchor="end" fill="#000">100</text>
<line x1="436.4" y1="435.7" x2="441.2" y2="435.7" stroke="#000" stroke-width="1.1"/>
<text x="433.9" y="439.1" font-size="9.5" font-weight="normal" text-anchor="end" fill="#000">50</text>
<line x1="436.4" y1="467.9" x2="441.2" y2="467.9" stroke="#000" stroke-width="1.1"/>
<text x="433.9" y="471.3" font-size="9.5" font-weight="normal" text-anchor="end" fill="#000">0</text>
<line x1="471.4" y1="467.9" x2="471.4" y2="472.9" stroke="#000" stroke-width="1.1"/>
<line x1="540.9" y1="467.9" x2="540.9" y2="472.9" stroke="#000" stroke-width="1.1"/>
<text x="471.4" y="484.6" font-size="10" font-weight="normal" text-anchor="middle" fill="#000">Basal</text>
<text x="540.9" y="484.6" font-size="10" font-weight="normal" text-anchor="middle" fill="#000">Contracted</text>
<rect x="448" y="338.4" width="64.5" height="31.2" fill="#fff" stroke="#3c3c3c" stroke-width="0.9"/>
<rect x="453" y="343" width="9" height="8.28" fill="#444446" stroke="none" stroke-width="1.0"/>
<rect x="453" y="356.2" width="9" height="8.28" fill="#17729f" stroke="none" stroke-width="1.0"/>
<text x="466.8" y="349.7" font-size="7.7" font-weight="normal" text-anchor="start" fill="#000" letter-spacing="-0.15">WT</text>
<text x="466.8" y="361.9" font-size="7.7" font-weight="normal" text-anchor="start" fill="#000" letter-spacing="-0.15">CaMKK2 KO</text>
<text x="410.2" y="401.4" font-size="9.1" font-weight="normal" text-anchor="middle" fill="#000" transform="rotate(-90 410.2 401.4)">pmol Pi incorporated · min<tspan dy="-3.6" font-size="6.6">−1</tspan><tspan dy="3.6">· mg</tspan><tspan dy="-3.6" font-size="6.6">−1</tspan></text>
<text x="506.2" y="321.3" font-size="10.6" font-weight="bold" text-anchor="middle" fill="#000">AMPKα2 activity</text>
<text x="392.8" y="321.3" font-size="16.5" font-weight="bold" text-anchor="start" fill="#000">E</text>
<rect x="627.9" y="457.6" width="15" height="10.7" fill="#8a8482" stroke="#000000" stroke-width="1.8"/>
<line x1="635.4" y1="455.3" x2="635.4" y2="458.4" stroke="#000000" stroke-width="1.0"/>
<line x1="631.1" y1="455.3" x2="639.7" y2="455.3" stroke="#000000" stroke-width="1.0"/>
<line x1="631.1" y1="458.4" x2="639.7" y2="458.4" stroke="#000000" stroke-width="1.0"/>
<circle cx="631.8" cy="451.7" r="2.0" fill="#464646"/>
<circle cx="638.6" cy="450.4" r="2.0" fill="#464646"/>
<circle cx="629.7" cy="459.5" r="2.0" fill="#464646"/>
<circle cx="640.3" cy="458.8" r="2.0" fill="#464646"/>
<circle cx="635.3" cy="461.6" r="2.0" fill="#464646"/>
<rect x="653.8" y="458.9" width="15" height="9.4" fill="#90abca" stroke="#0a3b57" stroke-width="1.8"/>
<line x1="661.3" y1="456.3" x2="661.3" y2="459.3" stroke="#0a3b57" stroke-width="1.0"/>
<line x1="657" y1="456.3" x2="665.6" y2="456.3" stroke="#0a3b57" stroke-width="1.0"/>
<line x1="657" y1="459.3" x2="665.6" y2="459.3" stroke="#0a3b57" stroke-width="1.0"/>
<circle cx="658" cy="456.6" r="2.0" fill="#2a86c2"/>
<circle cx="662.5" cy="455.9" r="2.0" fill="#2a86c2"/>
<circle cx="667" cy="456.1" r="2.0" fill="#2a86c2"/>
<circle cx="658" cy="460.4" r="2.0" fill="#2a86c2"/>
<circle cx="663.5" cy="458.8" r="2.0" fill="#2a86c2"/>
<rect x="697.4" y="381" width="14.6" height="87.3" fill="#8a8482" stroke="#000000" stroke-width="1.8"/>
<line x1="704.7" y1="372.5" x2="704.7" y2="386.8" stroke="#000000" stroke-width="1.0"/>
<line x1="700.4" y1="372.5" x2="709" y2="372.5" stroke="#000000" stroke-width="1.0"/>
<line x1="700.4" y1="386.8" x2="709" y2="386.8" stroke="#000000" stroke-width="1.0"/>
<circle cx="700.7" cy="358.4" r="2.0" fill="#464646"/>
<circle cx="708.7" cy="358" r="2.0" fill="#464646"/>
<circle cx="704.5" cy="380.5" r="2.0" fill="#464646"/>
<circle cx="704.5" cy="389.4" r="2.0" fill="#464646"/>
<circle cx="704.5" cy="394.2" r="2.0" fill="#464646"/>
<circle cx="704.5" cy="398.4" r="2.0" fill="#464646"/>
<polygon points="704.70,340.65 705.32,342.30 707.08,342.38 705.70,343.47 706.17,345.17 704.70,344.20 703.23,345.17 703.70,343.47 702.32,342.38 704.08,342.30" fill="#000"/>
<rect x="723.3" y="385.2" width="15" height="83.1" fill="#90abca" stroke="#0a3b57" stroke-width="1.8"/>
<line x1="730.8" y1="375.3" x2="730.8" y2="392.1" stroke="#0a3b57" stroke-width="1.0"/>
<line x1="726.5" y1="375.3" x2="735.1" y2="375.3" stroke="#0a3b57" stroke-width="1.0"/>
<line x1="726.5" y1="392.1" x2="735.1" y2="392.1" stroke="#0a3b57" stroke-width="1.0"/>
<circle cx="730.8" cy="346.2" r="2.0" fill="#2a86c2"/>
<circle cx="730.8" cy="375.3" r="2.0" fill="#2a86c2"/>
<circle cx="730.8" cy="383.7" r="2.0" fill="#2a86c2"/>
<circle cx="730.8" cy="397.4" r="2.0" fill="#2a86c2"/>
<circle cx="723.8" cy="399.9" r="2.0" fill="#2a86c2"/>
<circle cx="737.1" cy="399.9" r="2.0" fill="#2a86c2"/>
<polygon points="730.80,332.25 731.42,333.90 733.18,333.98 731.80,335.07 732.27,336.77 730.80,335.80 729.33,336.77 729.80,335.07 728.42,333.98 730.18,333.90" fill="#000"/>
<line x1="617.1" y1="338" x2="617.1" y2="469" stroke="#000" stroke-width="1.4"/>
<line x1="616.4" y1="468.3" x2="747.6" y2="468.3" stroke="#000" stroke-width="1.4"/>
<line x1="612.3" y1="338.4" x2="617.1" y2="338.4" stroke="#000" stroke-width="1.1"/>
<text x="609.8" y="341.8" font-size="9.5" font-weight="normal" text-anchor="end" fill="#000">30</text>
<line x1="612.3" y1="382.2" x2="617.1" y2="382.2" stroke="#000" stroke-width="1.1"/>
<text x="609.8" y="385.6" font-size="9.5" font-weight="normal" text-anchor="end" fill="#000">20</text>
<line x1="612.3" y1="425.2" x2="617.1" y2="425.2" stroke="#000" stroke-width="1.1"/>
<text x="609.8" y="428.6" font-size="9.5" font-weight="normal" text-anchor="end" fill="#000">10</text>
<line x1="612.3" y1="468.3" x2="617.1" y2="468.3" stroke="#000" stroke-width="1.1"/>
<text x="609.8" y="471.7" font-size="9.5" font-weight="normal" text-anchor="end" fill="#000">0</text>
<line x1="648" y1="468.3" x2="648" y2="473.3" stroke="#000" stroke-width="1.1"/>
<line x1="717.1" y1="468.3" x2="717.1" y2="473.3" stroke="#000" stroke-width="1.1"/>
<text x="648" y="484.5" font-size="10" font-weight="normal" text-anchor="middle" fill="#000">Basal</text>
<text x="717.1" y="484.5" font-size="10" font-weight="normal" text-anchor="middle" fill="#000">Contracted</text>
<rect x="624" y="338.4" width="64.7" height="31.6" fill="#fff" stroke="#3c3c3c" stroke-width="0.9"/>
<rect x="629" y="343" width="9" height="8.28" fill="#444446" stroke="none" stroke-width="1.0"/>
<rect x="629" y="356.2" width="9" height="8.28" fill="#17729f" stroke="none" stroke-width="1.0"/>
<text x="642.8" y="349.7" font-size="7.7" font-weight="normal" text-anchor="start" fill="#000" letter-spacing="-0.15">WT</text>
<text x="642.8" y="361.9" font-size="7.7" font-weight="normal" text-anchor="start" fill="#000" letter-spacing="-0.15">CaMKK2 KO</text>
<text x="591.6" y="403.8" font-size="9.3" font-weight="normal" text-anchor="middle" fill="#000" transform="rotate(-90 591.6 403.8)">pmol Pi incorporated · min<tspan dy="-3.6" font-size="6.6">−1</tspan><tspan dy="3.6">· mg</tspan><tspan dy="-3.6" font-size="6.6">−1</tspan></text>
<text x="683" y="321.3" font-size="10.6" font-weight="bold" text-anchor="middle" fill="#000">AMPKα1 activity</text>
<text x="578.8" y="321.3" font-size="16.5" font-weight="bold" text-anchor="start" fill="#000">F</text>
<rect x="87.1" y="868.2" width="15.5" height="19" fill="#8a8482" stroke="#000000" stroke-width="1.8"/>
<line x1="94.85" y1="864.2" x2="94.85" y2="870.7" stroke="#000000" stroke-width="1.0"/>
<line x1="90.55" y1="864.2" x2="99.15" y2="864.2" stroke="#000000" stroke-width="1.0"/>
<line x1="90.55" y1="870.7" x2="99.15" y2="870.7" stroke="#000000" stroke-width="1.0"/>
<circle cx="94.9" cy="855.9" r="2.0" fill="#464646"/>
<circle cx="90.6" cy="861.4" r="2.0" fill="#464646"/>
<circle cx="98" cy="864.2" r="2.0" fill="#464646"/>
<circle cx="94.9" cy="870.7" r="2.0" fill="#464646"/>
<circle cx="99.5" cy="871.6" r="2.0" fill="#464646"/>
<circle cx="94.9" cy="878" r="2.0" fill="#464646"/>
<rect x="113.6" y="868.2" width="15.4" height="19" fill="#90abca" stroke="#0a3b57" stroke-width="1.8"/>
<line x1="121.3" y1="864.5" x2="121.3" y2="869.5" stroke="#0a3b57" stroke-width="1.0"/>
<line x1="117" y1="864.5" x2="125.6" y2="864.5" stroke="#0a3b57" stroke-width="1.0"/>
<line x1="117" y1="869.5" x2="125.6" y2="869.5" stroke="#0a3b57" stroke-width="1.0"/>
<circle cx="123.5" cy="877.1" r="2.0" fill="#2a86c2"/>
<circle cx="118.8" cy="871.6" r="2.0" fill="#2a86c2"/>
<circle cx="128" cy="861" r="2.0" fill="#2a86c2"/>
<circle cx="123.5" cy="862.4" r="2.0" fill="#2a86c2"/>
<circle cx="118.8" cy="862.4" r="2.0" fill="#2a86c2"/>
<circle cx="114.5" cy="861.4" r="2.0" fill="#2a86c2"/>
<rect x="157.9" y="806.2" width="14.9" height="81" fill="#8a8482" stroke="#000000" stroke-width="1.8"/>
<line x1="165.35" y1="798.4" x2="165.35" y2="812.3" stroke="#000000" stroke-width="1.0"/>
<line x1="161.05" y1="798.4" x2="169.65" y2="798.4" stroke="#000000" stroke-width="1.0"/>
<line x1="161.05" y1="812.3" x2="169.65" y2="812.3" stroke="#000000" stroke-width="1.0"/>
<circle cx="165.3" cy="783.5" r="2.0" fill="#464646"/>
<circle cx="165.3" cy="791.4" r="2.0" fill="#464646"/>
<circle cx="165.3" cy="797" r="2.0" fill="#464646"/>
<circle cx="165.3" cy="819.1" r="2.0" fill="#464646"/>
<circle cx="171.3" cy="819.1" r="2.0" fill="#464646"/>
<circle cx="158.2" cy="822.8" r="2.0" fill="#464646"/>
<polygon points="165.35,771.65 165.97,773.30 167.73,773.38 166.35,774.47 166.82,776.17 165.35,775.20 163.88,776.17 164.35,774.47 162.97,773.38 164.73,773.30" fill="#000"/>
<rect x="183.6" y="806.7" width="15.7" height="80.5" fill="#90abca" stroke="#0a3b57" stroke-width="1.8"/>
<line x1="191.45" y1="800.1" x2="191.45" y2="809.9" stroke="#0a3b57" stroke-width="1.0"/>
<line x1="187.15" y1="800.1" x2="195.75" y2="800.1" stroke="#0a3b57" stroke-width="1.0"/>
<line x1="187.15" y1="809.9" x2="195.75" y2="809.9" stroke="#0a3b57" stroke-width="1.0"/>
<circle cx="191.4" cy="789.6" r="2.0" fill="#2a86c2"/>
<circle cx="191.4" cy="794.2" r="2.0" fill="#2a86c2"/>
<circle cx="191.4" cy="800.7" r="2.0" fill="#2a86c2"/>
<circle cx="187.5" cy="811.7" r="2.0" fill="#2a86c2"/>
<circle cx="195.5" cy="814.5" r="2.0" fill="#2a86c2"/>
<circle cx="191.4" cy="820.6" r="2.0" fill="#2a86c2"/>
<polygon points="191.45,778.05 192.07,779.70 193.83,779.78 192.45,780.87 192.92,782.57 191.45,781.60 189.98,782.57 190.45,780.87 189.07,779.78 190.83,779.70" fill="#000"/>
<line x1="77.4" y1="756" x2="77.4" y2="887.9" stroke="#000" stroke-width="1.4"/>
<line x1="76.7" y1="887.2" x2="208.4" y2="887.2" stroke="#000" stroke-width="1.4"/>
<line x1="72.6" y1="756.4" x2="77.4" y2="756.4" stroke="#000" stroke-width="1.1"/>
<text x="70.1" y="759.8" font-size="9.5" font-weight="normal" text-anchor="end" fill="#000">0.8</text>
<line x1="72.6" y1="789" x2="77.4" y2="789" stroke="#000" stroke-width="1.1"/>
<text x="70.1" y="792.4" font-size="9.5" font-weight="normal" text-anchor="end" fill="#000">0.6</text>
<line x1="72.6" y1="822.2" x2="77.4" y2="822.2" stroke="#000" stroke-width="1.1"/>
<text x="70.1" y="825.6" font-size="9.5" font-weight="normal" text-anchor="end" fill="#000">0.4</text>
<line x1="72.6" y1="855" x2="77.4" y2="855" stroke="#000" stroke-width="1.1"/>
<text x="70.1" y="858.4" font-size="9.5" font-weight="normal" text-anchor="end" fill="#000">0.2</text>
<line x1="72.6" y1="887.2" x2="77.4" y2="887.2" stroke="#000" stroke-width="1.1"/>
<text x="70.1" y="890.6" font-size="9.5" font-weight="normal" text-anchor="end" fill="#000">0</text>
<line x1="107.8" y1="887.2" x2="107.8" y2="892.2" stroke="#000" stroke-width="1.1"/>
<line x1="178.3" y1="887.2" x2="178.3" y2="892.2" stroke="#000" stroke-width="1.1"/>
<text x="107.8" y="903.7" font-size="10" font-weight="normal" text-anchor="middle" fill="#000">Basal</text>
<text x="178.3" y="903.7" font-size="10" font-weight="normal" text-anchor="middle" fill="#000">Contracted</text>
<rect x="83.3" y="756.4" width="66.5" height="31.9" fill="#fff" stroke="#3c3c3c" stroke-width="0.9"/>
<rect x="88.3" y="761" width="9" height="8.28" fill="#444446" stroke="none" stroke-width="1.0"/>
<rect x="88.3" y="774.2" width="9" height="8.28" fill="#17729f" stroke="none" stroke-width="1.0"/>
<text x="102.1" y="767.7" font-size="7.7" font-weight="normal" text-anchor="start" fill="#000" letter-spacing="-0.15">WT</text>
<text x="102.1" y="779.9" font-size="7.7" font-weight="normal" text-anchor="start" fill="#000" letter-spacing="-0.15">CaMKK2 KO</text>
<text x="38.5" y="821.5" font-size="9.5" font-weight="normal" text-anchor="middle" fill="#000" transform="rotate(-90 38.5 821.5)">pThr172-AMPKα / AMPKα</text>
<text x="49.2" y="821.9" font-size="9.4" font-weight="normal" text-anchor="middle" fill="#000" transform="rotate(-90 49.2 821.9)">(arbitrary units)</text>
<text x="32.8" y="756.8" font-size="16.5" font-weight="bold" text-anchor="start" fill="#000">H</text>
<rect x="311.4" y="868.8" width="15.1" height="19.1" fill="#8a8482" stroke="#000000" stroke-width="1.8"/>
<line x1="318.95" y1="865.8" x2="318.95" y2="871" stroke="#000000" stroke-width="1.0"/>
<line x1="314.65" y1="865.8" x2="323.25" y2="865.8" stroke="#000000" stroke-width="1.0"/>
<line x1="314.65" y1="871" x2="323.25" y2="871" stroke="#000000" stroke-width="1.0"/>
<circle cx="315" cy="859.5" r="2.0" fill="#464646"/>
<circle cx="322.5" cy="859.5" r="2.0" fill="#464646"/>
<circle cx="316" cy="863.7" r="2.0" fill="#464646"/>
<circle cx="322.5" cy="865.8" r="2.0" fill="#464646"/>
<circle cx="322" cy="871" r="2.0" fill="#464646"/>
<circle cx="318" cy="876.3" r="2.0" fill="#464646"/>
<rect x="337.7" y="866.3" width="15.5" height="21.6" fill="#90abca" stroke="#0a3b57" stroke-width="1.8"/>
<line x1="345.45" y1="863.7" x2="345.45" y2="866.8" stroke="#0a3b57" stroke-width="1.0"/>
<line x1="341.15" y1="863.7" x2="349.75" y2="863.7" stroke="#0a3b57" stroke-width="1.0"/>
<line x1="341.15" y1="866.8" x2="349.75" y2="866.8" stroke="#0a3b57" stroke-width="1.0"/>
<circle cx="345.5" cy="859.5" r="2.0" fill="#2a86c2"/>
<circle cx="341.5" cy="863.7" r="2.0" fill="#2a86c2"/>
<circle cx="349.5" cy="863.7" r="2.0" fill="#2a86c2"/>
<circle cx="343" cy="866.5" r="2.0" fill="#2a86c2"/>
<circle cx="352" cy="866.8" r="2.0" fill="#2a86c2"/>
<circle cx="338.8" cy="866.2" r="2.0" fill="#2a86c2"/>
<rect x="381.9" y="828.8" width="15.5" height="59.1" fill="#8a8482" stroke="#000000" stroke-width="1.8"/>
<line x1="389.65" y1="824.1" x2="389.65" y2="831" stroke="#000000" stroke-width="1.0"/>
<line x1="385.35" y1="824.1" x2="393.95" y2="824.1" stroke="#000000" stroke-width="1.0"/>
<line x1="385.35" y1="831" x2="393.95" y2="831" stroke="#000000" stroke-width="1.0"/>
<circle cx="389" cy="816.3" r="2.0" fill="#464646"/>
<circle cx="384.6" cy="821.6" r="2.0" fill="#464646"/>
<circle cx="393.7" cy="823.7" r="2.0" fill="#464646"/>
<circle cx="389.5" cy="831" r="2.0" fill="#464646"/>
<circle cx="389.5" cy="841.6" r="2.0" fill="#464646"/>
<circle cx="384" cy="826" r="2.0" fill="#464646"/>
<rect x="408.3" y="828.4" width="15.6" height="59.5" fill="#90abca" stroke="#0a3b57" stroke-width="1.8"/>
<line x1="416.1" y1="821.6" x2="416.1" y2="833.2" stroke="#0a3b57" stroke-width="1.0"/>
<line x1="411.8" y1="821.6" x2="420.4" y2="821.6" stroke="#0a3b57" stroke-width="1.0"/>
<line x1="411.8" y1="833.2" x2="420.4" y2="833.2" stroke="#0a3b57" stroke-width="1.0"/>
<circle cx="416" cy="801" r="2.0" fill="#2a86c2"/>
<circle cx="416" cy="823.7" r="2.0" fill="#2a86c2"/>
<circle cx="416" cy="831" r="2.0" fill="#2a86c2"/>
<circle cx="411.7" cy="835.3" r="2.0" fill="#2a86c2"/>
<circle cx="420.3" cy="835.3" r="2.0" fill="#2a86c2"/>
<line x1="301" y1="755.9" x2="301" y2="888.6" stroke="#000" stroke-width="1.4"/>
<line x1="300.3" y1="887.9" x2="432.6" y2="887.9" stroke="#000" stroke-width="1.4"/>
<line x1="296.2" y1="756.3" x2="301" y2="756.3" stroke="#000" stroke-width="1.1"/>
<text x="293.7" y="759.7" font-size="9.5" font-weight="normal" text-anchor="end" fill="#000">2</text>
<line x1="296.2" y1="800.5" x2="301" y2="800.5" stroke="#000" stroke-width="1.1"/>
<text x="293.7" y="803.9" font-size="9.5" font-weight="normal" text-anchor="end" fill="#000">1</text>
<line x1="296.2" y1="844.3" x2="301" y2="844.3" stroke="#000" stroke-width="1.1"/>
<text x="293.7" y="847.7" font-size="9.5" font-weight="normal" text-anchor="end" fill="#000">1</text>
<line x1="296.2" y1="887.9" x2="301" y2="887.9" stroke="#000" stroke-width="1.1"/>
<text x="293.7" y="891.3" font-size="9.5" font-weight="normal" text-anchor="end" fill="#000">0</text>
<line x1="332.2" y1="887.9" x2="332.2" y2="892.9" stroke="#000" stroke-width="1.1"/>
<line x1="401.7" y1="887.9" x2="401.7" y2="892.9" stroke="#000" stroke-width="1.1"/>
<text x="332.2" y="903.7" font-size="10" font-weight="normal" text-anchor="middle" fill="#000">Basal</text>
<text x="401.7" y="903.7" font-size="10" font-weight="normal" text-anchor="middle" fill="#000">Contracted</text>
<rect x="309" y="756.3" width="65.7" height="32" fill="#fff" stroke="#3c3c3c" stroke-width="0.9"/>
<rect x="314" y="760.9" width="9" height="8.28" fill="#444446" stroke="none" stroke-width="1.0"/>
<rect x="314" y="774.1" width="9" height="8.28" fill="#17729f" stroke="none" stroke-width="1.0"/>
<text x="327.8" y="767.6" font-size="7.7" font-weight="normal" text-anchor="start" fill="#000" letter-spacing="-0.15">WT</text>
<text x="327.8" y="779.8" font-size="7.7" font-weight="normal" text-anchor="start" fill="#000" letter-spacing="-0.15">CaMKK2 KO</text>
<text x="270.5" y="822.2" font-size="9.6" font-weight="normal" text-anchor="middle" fill="#000" transform="rotate(-90 270.5 822.2)">pSer212-ACC2 / ACC2</text>
<text x="281.9" y="821.9" font-size="9.4" font-weight="normal" text-anchor="middle" fill="#000" transform="rotate(-90 281.9 821.9)">(arbitrary units)</text>
<text x="259" y="756.8" font-size="16.5" font-weight="bold" text-anchor="start" fill="#000">I</text>
<polygon points="389.60,804.45 390.22,806.10 391.98,806.18 390.60,807.27 391.07,808.97 389.60,808.00 388.13,808.97 388.60,807.27 387.22,806.18 388.98,806.10" fill="#000"/>
<polygon points="416.00,787.25 416.62,788.90 418.38,788.98 417.00,790.07 417.47,791.77 416.00,790.80 414.53,791.77 415.00,790.07 413.62,788.98 415.38,788.90" fill="#000"/>
<rect x="86.8" y="1049.2" width="15.5" height="19.7" fill="#8a8482" stroke="#000000" stroke-width="1.8"/>
<line x1="94.55" y1="1045.8" x2="94.55" y2="1051" stroke="#000000" stroke-width="1.0"/>
<line x1="90.25" y1="1045.8" x2="98.85" y2="1045.8" stroke="#000000" stroke-width="1.0"/>
<line x1="90.25" y1="1051" x2="98.85" y2="1051" stroke="#000000" stroke-width="1.0"/>
<circle cx="94.3" cy="1036.9" r="2.0" fill="#464646"/>
<circle cx="88.5" cy="1048.5" r="2.0" fill="#464646"/>
<circle cx="93" cy="1049.5" r="2.0" fill="#464646"/>
<circle cx="98.5" cy="1049" r="2.0" fill="#464646"/>
<circle cx="101" cy="1051" r="2.0" fill="#464646"/>
<circle cx="91" cy="1051.5" r="2.0" fill="#464646"/>
<rect x="113.1" y="1051.3" width="15.5" height="17.6" fill="#90abca" stroke="#0a3b57" stroke-width="1.8"/>
<line x1="120.85" y1="1047.5" x2="120.85" y2="1053.2" stroke="#0a3b57" stroke-width="1.0"/>
<line x1="116.55" y1="1047.5" x2="125.15" y2="1047.5" stroke="#0a3b57" stroke-width="1.0"/>
<line x1="116.55" y1="1053.2" x2="125.15" y2="1053.2" stroke="#0a3b57" stroke-width="1.0"/>
<circle cx="120.6" cy="1035.7" r="2.0" fill="#2a86c2"/>
<circle cx="115" cy="1050.5" r="2.0" fill="#2a86c2"/>
<circle cx="126.5" cy="1050.8" r="2.0" fill="#2a86c2"/>
<circle cx="114.5" cy="1054" r="2.0" fill="#2a86c2"/>
<circle cx="120.5" cy="1054.5" r="2.0" fill="#2a86c2"/>
<circle cx="127" cy="1054" r="2.0" fill="#2a86c2"/>
<rect x="157.3" y="986.1" width="15.5" height="82.8" fill="#8a8482" stroke="#000000" stroke-width="1.8"/>
<line x1="165.05" y1="976.3" x2="165.05" y2="992.5" stroke="#000000" stroke-width="1.0"/>
<line x1="160.75" y1="976.3" x2="169.35" y2="976.3" stroke="#000000" stroke-width="1.0"/>
<line x1="160.75" y1="992.5" x2="169.35" y2="992.5" stroke="#000000" stroke-width="1.0"/>
<circle cx="164.6" cy="957" r="2.0" fill="#464646"/>
<circle cx="164.6" cy="974.2" r="2.0" fill="#464646"/>
<circle cx="160.6" cy="985.4" r="2.0" fill="#464646"/>
<circle cx="168.8" cy="985.2" r="2.0" fill="#464646"/>
<circle cx="164.6" cy="990.6" r="2.0" fill="#464646"/>
<circle cx="164.6" cy="1015.9" r="2.0" fill="#464646"/>
<polygon points="165.05,944.45 165.67,946.10 167.43,946.18 166.05,947.27 166.52,948.97 165.05,948.00 163.58,948.97 164.05,947.27 162.67,946.18 164.43,946.10" fill="#000"/>
<rect x="183.6" y="1004" width="15.5" height="64.9" fill="#90abca" stroke="#0a3b57" stroke-width="1.8"/>
<line x1="191.35" y1="993.6" x2="191.35" y2="1011" stroke="#0a3b57" stroke-width="1.0"/>
<line x1="187.05" y1="993.6" x2="195.65" y2="993.6" stroke="#0a3b57" stroke-width="1.0"/>
<line x1="187.05" y1="1011" x2="195.65" y2="1011" stroke="#0a3b57" stroke-width="1.0"/>
<circle cx="191.2" cy="969.4" r="2.0" fill="#2a86c2"/>
<circle cx="184.6" cy="998.8" r="2.0" fill="#2a86c2"/>
<circle cx="191.2" cy="997.4" r="2.0" fill="#2a86c2"/>
<circle cx="197.9" cy="999" r="2.0" fill="#2a86c2"/>
<circle cx="191.2" cy="1015.9" r="2.0" fill="#2a86c2"/>
<circle cx="191.2" cy="1033.6" r="2.0" fill="#2a86c2"/>
<polygon points="191.35,955.65 191.97,957.30 193.73,957.38 192.35,958.47 192.82,960.17 191.35,959.20 189.88,960.17 190.35,958.47 188.97,957.38 190.73,957.30" fill="#000"/>
<line x1="76.4" y1="937" x2="76.4" y2="1069.6" stroke="#000" stroke-width="1.4"/>
<line x1="75.7" y1="1068.9" x2="208.8" y2="1068.9" stroke="#000" stroke-width="1.4"/>
<line x1="71.6" y1="937.4" x2="76.4" y2="937.4" stroke="#000" stroke-width="1.1"/>
<text x="69.1" y="940.8" font-size="9.5" font-weight="normal" text-anchor="end" fill="#000">50</text>
<line x1="71.6" y1="963.7" x2="76.4" y2="963.7" stroke="#000" stroke-width="1.1"/>
<text x="69.1" y="967.1" font-size="9.5" font-weight="normal" text-anchor="end" fill="#000">40</text>
<line x1="71.6" y1="990" x2="76.4" y2="990" stroke="#000" stroke-width="1.1"/>
<text x="69.1" y="993.4" font-size="9.5" font-weight="normal" text-anchor="end" fill="#000">30</text>
<line x1="71.6" y1="1016.3" x2="76.4" y2="1016.3" stroke="#000" stroke-width="1.1"/>
<text x="69.1" y="1019.7" font-size="9.5" font-weight="normal" text-anchor="end" fill="#000">20</text>
<line x1="71.6" y1="1042.6" x2="76.4" y2="1042.6" stroke="#000" stroke-width="1.1"/>
<text x="69.1" y="1046" font-size="9.5" font-weight="normal" text-anchor="end" fill="#000">10</text>
<line x1="71.6" y1="1068.9" x2="76.4" y2="1068.9" stroke="#000" stroke-width="1.1"/>
<text x="69.1" y="1072.3" font-size="9.5" font-weight="normal" text-anchor="end" fill="#000">0</text>
<line x1="107.4" y1="1068.9" x2="107.4" y2="1073.9" stroke="#000" stroke-width="1.1"/>
<line x1="177.9" y1="1068.9" x2="177.9" y2="1073.9" stroke="#000" stroke-width="1.1"/>
<text x="107.4" y="1085.4" font-size="10" font-weight="normal" text-anchor="middle" fill="#000">Basal</text>
<text x="177.9" y="1085.4" font-size="10" font-weight="normal" text-anchor="middle" fill="#000">Contracted</text>
<rect x="83.2" y="937.4" width="66.3" height="32" fill="#fff" stroke="#3c3c3c" stroke-width="0.9"/>
<rect x="88.2" y="942" width="9" height="8.28" fill="#444446" stroke="none" stroke-width="1.0"/>
<rect x="88.2" y="955.2" width="9" height="8.28" fill="#17729f" stroke="none" stroke-width="1.0"/>
<text x="102" y="948.7" font-size="7.7" font-weight="normal" text-anchor="start" fill="#000" letter-spacing="-0.15">WT</text>
<text x="102" y="960.9" font-size="7.7" font-weight="normal" text-anchor="start" fill="#000" letter-spacing="-0.15">CaMKK2 KO</text>
<text x="52" y="1004.2" font-size="9.6" font-weight="normal" text-anchor="middle" fill="#000" transform="rotate(-90 52 1004.2)">pmol Pi incorporated · min<tspan dy="-3.6" font-size="6.6">−1</tspan><tspan dy="3.6">· mg</tspan><tspan dy="-3.6" font-size="6.6">−1</tspan></text>
<text x="141.3" y="928.4" font-size="10.6" font-weight="bold" text-anchor="middle" fill="#000">AMPKα2 activity</text>
<text x="31.2" y="928.4" font-size="16.5" font-weight="bold" text-anchor="start" fill="#000">J</text>
<rect x="314.3" y="1059.7" width="15.1" height="10.3" fill="#8a8482" stroke="#000000" stroke-width="1.8"/>
<line x1="321.85" y1="1054.6" x2="321.85" y2="1062.6" stroke="#000000" stroke-width="1.0"/>
<line x1="317.55" y1="1054.6" x2="326.15" y2="1054.6" stroke="#000000" stroke-width="1.0"/>
<line x1="317.55" y1="1062.6" x2="326.15" y2="1062.6" stroke="#000000" stroke-width="1.0"/>
<circle cx="321.8" cy="1044.7" r="2.0" fill="#464646"/>
<circle cx="318.7" cy="1059.5" r="2.0" fill="#464646"/>
<circle cx="326" cy="1055.9" r="2.0" fill="#464646"/>
<circle cx="317.6" cy="1067.9" r="2.0" fill="#464646"/>
<circle cx="326" cy="1067.9" r="2.0" fill="#464646"/>
<rect x="340.2" y="1056.2" width="15.5" height="13.8" fill="#90abca" stroke="#0a3b57" stroke-width="1.8"/>
<line x1="347.95" y1="1050.4" x2="347.95" y2="1059.5" stroke="#0a3b57" stroke-width="1.0"/>
<line x1="343.65" y1="1050.4" x2="352.25" y2="1050.4" stroke="#0a3b57" stroke-width="1.0"/>
<line x1="343.65" y1="1059.5" x2="352.25" y2="1059.5" stroke="#0a3b57" stroke-width="1.0"/>
<circle cx="347.7" cy="1038.4" r="2.0" fill="#2a86c2"/>
<circle cx="352" cy="1053.8" r="2.0" fill="#2a86c2"/>
<circle cx="345" cy="1057.4" r="2.0" fill="#2a86c2"/>
<circle cx="348.2" cy="1063.7" r="2.0" fill="#2a86c2"/>
<rect x="384.9" y="980.4" width="15" height="89.6" fill="#8a8482" stroke="#000000" stroke-width="1.8"/>
<line x1="392.4" y1="970.4" x2="392.4" y2="987.3" stroke="#000000" stroke-width="1.0"/>
<line x1="388.1" y1="970.4" x2="396.7" y2="970.4" stroke="#000000" stroke-width="1.0"/>
<line x1="388.1" y1="987.3" x2="396.7" y2="987.3" stroke="#000000" stroke-width="1.0"/>
<circle cx="391.9" cy="947.5" r="2.0" fill="#464646"/>
<circle cx="391.9" cy="965.2" r="2.0" fill="#464646"/>
<circle cx="391.9" cy="974.2" r="2.0" fill="#464646"/>
<circle cx="388.2" cy="993.2" r="2.0" fill="#464646"/>
<circle cx="396.2" cy="993.2" r="2.0" fill="#464646"/>
<circle cx="391.9" cy="1001.2" r="2.0" fill="#464646"/>
<polygon points="392.40,935.05 393.02,936.70 394.78,936.78 393.40,937.87 393.87,939.57 392.40,938.60 390.93,939.57 391.40,937.87 390.02,936.78 391.78,936.70" fill="#000"/>
<rect x="411.2" y="983.1" width="15.6" height="86.9" fill="#90abca" stroke="#0a3b57" stroke-width="1.8"/>
<line x1="419" y1="971.1" x2="419" y2="992.5" stroke="#0a3b57" stroke-width="1.0"/>
<line x1="414.7" y1="971.1" x2="423.3" y2="971.1" stroke="#0a3b57" stroke-width="1.0"/>
<line x1="414.7" y1="992.5" x2="423.3" y2="992.5" stroke="#0a3b57" stroke-width="1.0"/>
<circle cx="418.7" cy="951.7" r="2.0" fill="#2a86c2"/>
<circle cx="418.7" cy="968.3" r="2.0" fill="#2a86c2"/>
<circle cx="415.1" cy="985.2" r="2.0" fill="#2a86c2"/>
<circle cx="422.3" cy="986.8" r="2.0" fill="#2a86c2"/>
<circle cx="418.7" cy="1016.7" r="2.0" fill="#2a86c2"/>
<polygon points="419.00,940.25 419.62,941.90 421.38,941.98 420.00,943.07 420.47,944.77 419.00,943.80 417.53,944.77 418.00,943.07 416.62,941.98 418.38,941.90" fill="#000"/>
<line x1="303.9" y1="937.6" x2="303.9" y2="1070.7" stroke="#000" stroke-width="1.4"/>
<line x1="303.2" y1="1070" x2="436.2" y2="1070" stroke="#000" stroke-width="1.4"/>
<line x1="299.1" y1="938" x2="303.9" y2="938" stroke="#000" stroke-width="1.1"/>
<text x="296.6" y="941.4" font-size="9.5" font-weight="normal" text-anchor="end" fill="#000">10</text>
<line x1="299.1" y1="964.7" x2="303.9" y2="964.7" stroke="#000" stroke-width="1.1"/>
<text x="296.6" y="968.1" font-size="9.5" font-weight="normal" text-anchor="end" fill="#000">8</text>
<line x1="299.1" y1="991.1" x2="303.9" y2="991.1" stroke="#000" stroke-width="1.1"/>
<text x="296.6" y="994.5" font-size="9.5" font-weight="normal" text-anchor="end" fill="#000">6</text>
<line x1="299.1" y1="1017.4" x2="303.9" y2="1017.4" stroke="#000" stroke-width="1.1"/>
<text x="296.6" y="1020.8" font-size="9.5" font-weight="normal" text-anchor="end" fill="#000">4</text>
<line x1="299.1" y1="1043.7" x2="303.9" y2="1043.7" stroke="#000" stroke-width="1.1"/>
<text x="296.6" y="1047.1" font-size="9.5" font-weight="normal" text-anchor="end" fill="#000">2</text>
<line x1="299.1" y1="1070" x2="303.9" y2="1070" stroke="#000" stroke-width="1.1"/>
<text x="296.6" y="1073.4" font-size="9.5" font-weight="normal" text-anchor="end" fill="#000">0</text>
<line x1="334.9" y1="1070" x2="334.9" y2="1075" stroke="#000" stroke-width="1.1"/>
<line x1="405.4" y1="1070" x2="405.4" y2="1075" stroke="#000" stroke-width="1.1"/>
<text x="334.9" y="1086.8" font-size="10" font-weight="normal" text-anchor="middle" fill="#000">Basal</text>
<text x="405.4" y="1086.8" font-size="10" font-weight="normal" text-anchor="middle" fill="#000">Contracted</text>
<rect x="310.7" y="938.4" width="65.5" height="32" fill="#fff" stroke="#3c3c3c" stroke-width="0.9"/>
<rect x="315.7" y="943" width="9" height="8.28" fill="#444446" stroke="none" stroke-width="1.0"/>
<rect x="315.7" y="956.2" width="9" height="8.28" fill="#17729f" stroke="none" stroke-width="1.0"/>
<text x="329.5" y="949.7" font-size="7.7" font-weight="normal" text-anchor="start" fill="#000" letter-spacing="-0.15">WT</text>
<text x="329.5" y="961.9" font-size="7.7" font-weight="normal" text-anchor="start" fill="#000" letter-spacing="-0.15">CaMKK2 KO</text>
<text x="280.8" y="1004.2" font-size="9.6" font-weight="normal" text-anchor="middle" fill="#000" transform="rotate(-90 280.8 1004.2)">pmol Pi incorporated · min<tspan dy="-3.6" font-size="6.6">−1</tspan><tspan dy="3.6">· mg</tspan><tspan dy="-3.6" font-size="6.6">−1</tspan></text>
<text x="371" y="926.8" font-size="10.6" font-weight="bold" text-anchor="middle" fill="#000">AMPKα1 activity</text>
<text x="254.6" y="930" font-size="16.5" font-weight="bold" text-anchor="start" fill="#000">K</text>
<rect x="570.3" y="664.7" width="17.8" height="27.1" fill="#8a8482" stroke="#000000" stroke-width="1.8"/>
<line x1="579.2" y1="660.7" x2="579.2" y2="667.6" stroke="#000000" stroke-width="1.0"/>
<line x1="574.4" y1="660.7" x2="584" y2="660.7" stroke="#000000" stroke-width="1.0"/>
<line x1="574.4" y1="667.6" x2="584" y2="667.6" stroke="#000000" stroke-width="1.0"/>
<circle cx="579.1" cy="650.4" r="2.0" fill="#464646"/>
<circle cx="579.1" cy="657.1" r="2.0" fill="#464646"/>
<circle cx="571" cy="664.5" r="2.0" fill="#464646"/>
<circle cx="586.8" cy="665.5" r="2.0" fill="#464646"/>
<circle cx="579.1" cy="668.7" r="2.0" fill="#464646"/>
<circle cx="579.1" cy="675.6" r="2.0" fill="#464646"/>
<rect x="600.4" y="655.9" width="17.1" height="35.9" fill="#90abca" stroke="#0a3b57" stroke-width="1.8"/>
<line x1="608.95" y1="650.4" x2="608.95" y2="658.2" stroke="#0a3b57" stroke-width="1.0"/>
<line x1="604.15" y1="650.4" x2="613.75" y2="650.4" stroke="#0a3b57" stroke-width="1.0"/>
<line x1="604.15" y1="658.2" x2="613.75" y2="658.2" stroke="#0a3b57" stroke-width="1.0"/>
<circle cx="604.3" cy="644" r="2.0" fill="#2a86c2"/>
<circle cx="613.2" cy="641.3" r="2.0" fill="#2a86c2"/>
<circle cx="608.5" cy="651.8" r="2.0" fill="#2a86c2"/>
<circle cx="608.5" cy="658.2" r="2.0" fill="#2a86c2"/>
<circle cx="604.3" cy="666" r="2.0" fill="#2a86c2"/>
<circle cx="613.2" cy="664.5" r="2.0" fill="#2a86c2"/>
<rect x="650.3" y="591.7" width="16.1" height="100.1" fill="#8a8482" stroke="#000000" stroke-width="1.8"/>
<line x1="658.35" y1="584" x2="658.35" y2="596.5" stroke="#000000" stroke-width="1.0"/>
<line x1="653.55" y1="584" x2="663.15" y2="584" stroke="#000000" stroke-width="1.0"/>
<line x1="653.55" y1="596.5" x2="663.15" y2="596.5" stroke="#000000" stroke-width="1.0"/>
<circle cx="657.8" cy="572.5" r="2.0" fill="#464646"/>
<circle cx="653.2" cy="578.8" r="2.0" fill="#464646"/>
<circle cx="662.6" cy="581.3" r="2.0" fill="#464646"/>
<circle cx="657.8" cy="591.4" r="2.0" fill="#464646"/>
<circle cx="657.8" cy="601.3" r="2.0" fill="#464646"/>
<circle cx="657.8" cy="612.9" r="2.0" fill="#464646"/>
<polygon points="658.35,558.95 658.97,560.60 660.73,560.68 659.35,561.77 659.82,563.47 658.35,562.50 656.88,563.47 657.35,561.77 655.97,560.68 657.73,560.60" fill="#000"/>
<rect x="679.3" y="588.9" width="16.5" height="102.9" fill="#90abca" stroke="#0a3b57" stroke-width="1.8"/>
<line x1="687.55" y1="583" x2="687.55" y2="591.4" stroke="#0a3b57" stroke-width="1.0"/>
<line x1="682.75" y1="583" x2="692.35" y2="583" stroke="#0a3b57" stroke-width="1.0"/>
<line x1="682.75" y1="591.4" x2="692.35" y2="591.4" stroke="#0a3b57" stroke-width="1.0"/>
<circle cx="687.3" cy="569.7" r="2.0" fill="#2a86c2"/>
<circle cx="687.3" cy="580.3" r="2.0" fill="#2a86c2"/>
<circle cx="682.6" cy="589.7" r="2.0" fill="#2a86c2"/>
<circle cx="692.1" cy="589.3" r="2.0" fill="#2a86c2"/>
<circle cx="687.3" cy="594.4" r="2.0" fill="#2a86c2"/>
<circle cx="687.3" cy="600.7" r="2.0" fill="#2a86c2"/>
<polygon points="687.55,556.85 688.17,558.50 689.93,558.58 688.55,559.67 689.02,561.37 687.55,560.40 686.08,561.37 686.55,559.67 685.17,558.58 686.93,558.50" fill="#000"/>
<line x1="559.2" y1="544.1" x2="559.2" y2="692.5" stroke="#000" stroke-width="1.4"/>
<line x1="558.5" y1="691.8" x2="706.8" y2="691.8" stroke="#000" stroke-width="1.4"/>
<line x1="554.2" y1="544.5" x2="559.2" y2="544.5" stroke="#000" stroke-width="1.1"/>
<text x="551.7" y="548.6" font-size="10.5" font-weight="normal" text-anchor="end" fill="#000">3</text>
<line x1="554.2" y1="594" x2="559.2" y2="594" stroke="#000" stroke-width="1.1"/>
<text x="551.7" y="598.1" font-size="10.5" font-weight="normal" text-anchor="end" fill="#000">2</text>
<line x1="554.2" y1="643.4" x2="559.2" y2="643.4" stroke="#000" stroke-width="1.1"/>
<text x="551.7" y="647.5" font-size="10.5" font-weight="normal" text-anchor="end" fill="#000">1</text>
<line x1="554.2" y1="691.8" x2="559.2" y2="691.8" stroke="#000" stroke-width="1.1"/>
<text x="551.7" y="695.9" font-size="10.5" font-weight="normal" text-anchor="end" fill="#000">0</text>
<line x1="593.8" y1="691.8" x2="593.8" y2="696.8" stroke="#000" stroke-width="1.1"/>
<line x1="673.2" y1="691.8" x2="673.2" y2="696.8" stroke="#000" stroke-width="1.1"/>
<text x="593.8" y="708.5" font-size="10.5" font-weight="normal" text-anchor="middle" fill="#000">Basal</text>
<text x="673.2" y="708.5" font-size="10.5" font-weight="normal" text-anchor="middle" fill="#000">Contracted</text>
<rect x="565.4" y="544.5" width="77.2" height="37.9" fill="#fff" stroke="#3c3c3c" stroke-width="0.9"/>
<rect x="572.1" y="550.2" width="10.4" height="9.57" fill="#444446" stroke="none" stroke-width="1.0"/>
<rect x="572.1" y="566.2" width="10.4" height="9.57" fill="#17729f" stroke="none" stroke-width="1.0"/>
<text x="588.4" y="558.2" font-size="9.2" font-weight="normal" text-anchor="start" fill="#000" letter-spacing="-0.1">WT</text>
<text x="588.4" y="572.9" font-size="9.2" font-weight="normal" text-anchor="start" fill="#000" letter-spacing="-0.1">CaMKK2 KO</text>
<text x="538.3" y="620.7" font-size="10.2" font-weight="normal" text-anchor="middle" fill="#000" transform="rotate(-90 538.3 620.7)">μmol · g tissue<tspan dy="-3.9" font-size="7.2">−1</tspan><tspan dy="3.9">· h</tspan><tspan dy="-3.9" font-size="7.2">−1</tspan></text>
<text x="628.8" y="530.1" font-size="11" font-weight="bold" text-anchor="middle" fill="#000">Glucose uptake</text>
<text x="512.8" y="529.1" font-size="16.5" font-weight="bold" text-anchor="start" fill="#000">L</text>
<rect x="588.1" y="790.2" width="24.8" height="98.4" fill="#8b8b8b" stroke="#000000" stroke-width="1.6"/>
<line x1="600.5" y1="786.5" x2="600.5" y2="792.5" stroke="#000000" stroke-width="1.0"/>
<line x1="596.2" y1="786.5" x2="604.8" y2="786.5" stroke="#000000" stroke-width="1.0"/>
<line x1="596.2" y1="792.5" x2="604.8" y2="792.5" stroke="#000000" stroke-width="1.0"/>
<circle cx="592.5" cy="784.2" r="2.0" fill="#464646"/>
<circle cx="598" cy="786" r="2.0" fill="#464646"/>
<circle cx="604" cy="786.6" r="2.0" fill="#464646"/>
<circle cx="608.6" cy="784.6" r="2.0" fill="#464646"/>
<circle cx="596" cy="791.3" r="2.0" fill="#464646"/>
<circle cx="603" cy="790" r="2.0" fill="#464646"/>
<rect x="627.9" y="793.8" width="24.8" height="94.8" fill="#7eaac2" stroke="#0a3b57" stroke-width="1.6"/>
<line x1="640.3" y1="789.2" x2="640.3" y2="796.7" stroke="#0a3b57" stroke-width="1.0"/>
<line x1="636" y1="789.2" x2="644.6" y2="789.2" stroke="#0a3b57" stroke-width="1.0"/>
<line x1="636" y1="796.7" x2="644.6" y2="796.7" stroke="#0a3b57" stroke-width="1.0"/>
<circle cx="640.2" cy="781.3" r="2.0" fill="#2a86c2"/>
<circle cx="640.2" cy="790.3" r="2.0" fill="#2a86c2"/>
<circle cx="640.2" cy="794.5" r="2.0" fill="#2a86c2"/>
<circle cx="640.2" cy="803.6" r="2.0" fill="#2a86c2"/>
<line x1="574" y1="762" x2="574" y2="889.3" stroke="#000" stroke-width="1.4"/>
<line x1="573.3" y1="888.6" x2="667" y2="888.6" stroke="#000" stroke-width="1.4"/>
<line x1="568.7" y1="762.4" x2="574" y2="762.4" stroke="#000" stroke-width="1.1"/>
<text x="566.2" y="765.8" font-size="9" font-weight="normal" text-anchor="end" fill="#000">400</text>
<line x1="568.7" y1="794.2" x2="574" y2="794.2" stroke="#000" stroke-width="1.1"/>
<text x="566.2" y="797.6" font-size="9" font-weight="normal" text-anchor="end" fill="#000">300</text>
<line x1="568.7" y1="825.5" x2="574" y2="825.5" stroke="#000" stroke-width="1.1"/>
<text x="566.2" y="828.9" font-size="9" font-weight="normal" text-anchor="end" fill="#000">200</text>
<line x1="568.7" y1="857" x2="574" y2="857" stroke="#000" stroke-width="1.1"/>
<text x="566.2" y="860.4" font-size="9" font-weight="normal" text-anchor="end" fill="#000">100</text>
<line x1="568.7" y1="888.6" x2="574" y2="888.6" stroke="#000" stroke-width="1.1"/>
<text x="566.2" y="892" font-size="9" font-weight="normal" text-anchor="end" fill="#000">0</text>
<line x1="600.3" y1="888.6" x2="600.3" y2="893.6" stroke="#000" stroke-width="1.1"/>
<line x1="640.2" y1="888.6" x2="640.2" y2="893.6" stroke="#000" stroke-width="1.1"/>
<text x="599.1" y="904.2" font-size="9.2" font-weight="normal" text-anchor="middle" fill="#000">WT</text>
<text x="639" y="904.2" font-size="9.2" font-weight="normal" text-anchor="middle" fill="#000">CaMKK2 KO</text>
<text x="542.8" y="827.5" font-size="9.5" font-weight="normal" text-anchor="middle" fill="#000" transform="rotate(-90 542.8 827.5)">Force (mN)</text>
<text x="624" y="755" font-size="11" font-weight="bold" text-anchor="middle" fill="#000">Peak force</text>
<text x="509.2" y="755.7" font-size="17" font-weight="bold" text-anchor="start" fill="#000">M</text>
<line x1="539.36" y1="983.62" x2="539.36" y2="985.81" stroke="#5a9ac4" stroke-width="0.8"/>
<line x1="537.76" y1="985.81" x2="540.96" y2="985.81" stroke="#5a9ac4" stroke-width="0.8"/>
<line x1="544.23" y1="978.13" x2="544.23" y2="980.32" stroke="#5a9ac4" stroke-width="0.8"/>
<line x1="542.63" y1="980.32" x2="545.83" y2="980.32" stroke="#5a9ac4" stroke-width="0.8"/>
<line x1="549.09" y1="982.24" x2="549.09" y2="984.44" stroke="#5a9ac4" stroke-width="0.8"/>
<line x1="547.49" y1="984.44" x2="550.69" y2="984.44" stroke="#5a9ac4" stroke-width="0.8"/>
<line x1="553.96" y1="986.91" x2="553.96" y2="989.66" stroke="#5a9ac4" stroke-width="0.8"/>
<line x1="552.36" y1="989.66" x2="555.56" y2="989.66" stroke="#5a9ac4" stroke-width="0.8"/>
<line x1="558.83" y1="992.95" x2="558.83" y2="997.89" stroke="#5a9ac4" stroke-width="0.8"/>
<line x1="557.23" y1="997.89" x2="560.43" y2="997.89" stroke="#5a9ac4" stroke-width="0.8"/>
<line x1="563.7" y1="1000.36" x2="563.7" y2="1005.85" stroke="#5a9ac4" stroke-width="0.8"/>
<line x1="562.1" y1="1005.85" x2="565.3" y2="1005.85" stroke="#5a9ac4" stroke-width="0.8"/>
<line x1="568.57" y1="1011.07" x2="568.57" y2="1016.56" stroke="#5a9ac4" stroke-width="0.8"/>
<line x1="566.97" y1="1016.56" x2="570.17" y2="1016.56" stroke="#5a9ac4" stroke-width="0.8"/>
<line x1="573.44" y1="1020.95" x2="573.44" y2="1025.89" stroke="#5a9ac4" stroke-width="0.8"/>
<line x1="571.84" y1="1025.89" x2="575.04" y2="1025.89" stroke="#5a9ac4" stroke-width="0.8"/>
<line x1="578.31" y1="1028.36" x2="578.31" y2="1032.48" stroke="#5a9ac4" stroke-width="0.8"/>
<line x1="576.71" y1="1032.48" x2="579.91" y2="1032.48" stroke="#5a9ac4" stroke-width="0.8"/>
<line x1="583.18" y1="1033.03" x2="583.18" y2="1035.77" stroke="#5a9ac4" stroke-width="0.8"/>
<line x1="581.58" y1="1035.77" x2="584.78" y2="1035.77" stroke="#5a9ac4" stroke-width="0.8"/>
<line x1="588.05" y1="1035.77" x2="588.05" y2="1037.97" stroke="#5a9ac4" stroke-width="0.8"/>
<line x1="586.45" y1="1037.97" x2="589.65" y2="1037.97" stroke="#5a9ac4" stroke-width="0.8"/>
<line x1="592.92" y1="1037.69" x2="592.92" y2="1039.34" stroke="#5a9ac4" stroke-width="0.8"/>
<line x1="591.32" y1="1039.34" x2="594.52" y2="1039.34" stroke="#5a9ac4" stroke-width="0.8"/>
<line x1="597.79" y1="1039.07" x2="597.79" y2="1040.44" stroke="#5a9ac4" stroke-width="0.8"/>
<line x1="596.19" y1="1040.44" x2="599.39" y2="1040.44" stroke="#5a9ac4" stroke-width="0.8"/>
<line x1="602.66" y1="1040.16" x2="602.66" y2="1041.54" stroke="#5a9ac4" stroke-width="0.8"/>
<line x1="601.06" y1="1041.54" x2="604.26" y2="1041.54" stroke="#5a9ac4" stroke-width="0.8"/>
<line x1="607.53" y1="1040.99" x2="607.53" y2="1042.09" stroke="#5a9ac4" stroke-width="0.8"/>
<line x1="605.93" y1="1042.09" x2="609.13" y2="1042.09" stroke="#5a9ac4" stroke-width="0.8"/>
<line x1="612.39" y1="1041.81" x2="612.39" y2="1042.91" stroke="#5a9ac4" stroke-width="0.8"/>
<line x1="610.79" y1="1042.91" x2="613.99" y2="1042.91" stroke="#5a9ac4" stroke-width="0.8"/>
<line x1="617.26" y1="1042.36" x2="617.26" y2="1043.46" stroke="#5a9ac4" stroke-width="0.8"/>
<line x1="615.66" y1="1043.46" x2="618.86" y2="1043.46" stroke="#5a9ac4" stroke-width="0.8"/>
<line x1="622.13" y1="1042.91" x2="622.13" y2="1044.01" stroke="#5a9ac4" stroke-width="0.8"/>
<line x1="620.53" y1="1044.01" x2="623.73" y2="1044.01" stroke="#5a9ac4" stroke-width="0.8"/>
<line x1="627" y1="1043.18" x2="627" y2="1044.28" stroke="#5a9ac4" stroke-width="0.8"/>
<line x1="625.4" y1="1044.28" x2="628.6" y2="1044.28" stroke="#5a9ac4" stroke-width="0.8"/>
<line x1="631.87" y1="1043.73" x2="631.87" y2="1044.83" stroke="#5a9ac4" stroke-width="0.8"/>
<line x1="630.27" y1="1044.83" x2="633.47" y2="1044.83" stroke="#5a9ac4" stroke-width="0.8"/>
<line x1="636.74" y1="1044.28" x2="636.74" y2="1045.38" stroke="#5a9ac4" stroke-width="0.8"/>
<line x1="635.14" y1="1045.38" x2="638.34" y2="1045.38" stroke="#5a9ac4" stroke-width="0.8"/>
<line x1="641.61" y1="1044.83" x2="641.61" y2="1045.93" stroke="#5a9ac4" stroke-width="0.8"/>
<line x1="640.01" y1="1045.93" x2="643.21" y2="1045.93" stroke="#5a9ac4" stroke-width="0.8"/>
<line x1="646.48" y1="1045.38" x2="646.48" y2="1046.48" stroke="#5a9ac4" stroke-width="0.8"/>
<line x1="644.88" y1="1046.48" x2="648.08" y2="1046.48" stroke="#5a9ac4" stroke-width="0.8"/>
<line x1="651.35" y1="1045.93" x2="651.35" y2="1047.03" stroke="#5a9ac4" stroke-width="0.8"/>
<line x1="649.75" y1="1047.03" x2="652.95" y2="1047.03" stroke="#5a9ac4" stroke-width="0.8"/>
<line x1="656.22" y1="1046.48" x2="656.22" y2="1047.58" stroke="#5a9ac4" stroke-width="0.8"/>
<line x1="654.62" y1="1047.58" x2="657.82" y2="1047.58" stroke="#5a9ac4" stroke-width="0.8"/>
<line x1="661.09" y1="1046.75" x2="661.09" y2="1047.85" stroke="#5a9ac4" stroke-width="0.8"/>
<line x1="659.49" y1="1047.85" x2="662.69" y2="1047.85" stroke="#5a9ac4" stroke-width="0.8"/>
<line x1="665.96" y1="1047.3" x2="665.96" y2="1048.4" stroke="#5a9ac4" stroke-width="0.8"/>
<line x1="664.36" y1="1048.4" x2="667.56" y2="1048.4" stroke="#5a9ac4" stroke-width="0.8"/>
<line x1="670.82" y1="1047.58" x2="670.82" y2="1048.67" stroke="#5a9ac4" stroke-width="0.8"/>
<line x1="669.22" y1="1048.67" x2="672.42" y2="1048.67" stroke="#5a9ac4" stroke-width="0.8"/>
<line x1="675.69" y1="1047.58" x2="675.69" y2="1048.67" stroke="#5a9ac4" stroke-width="0.8"/>
<line x1="674.09" y1="1048.67" x2="677.29" y2="1048.67" stroke="#5a9ac4" stroke-width="0.8"/>
<line x1="680.56" y1="1047.85" x2="680.56" y2="1048.95" stroke="#5a9ac4" stroke-width="0.8"/>
<line x1="678.96" y1="1048.95" x2="682.16" y2="1048.95" stroke="#5a9ac4" stroke-width="0.8"/>
<line x1="685.43" y1="1047.85" x2="685.43" y2="1048.95" stroke="#5a9ac4" stroke-width="0.8"/>
<line x1="683.83" y1="1048.95" x2="687.03" y2="1048.95" stroke="#5a9ac4" stroke-width="0.8"/>
<line x1="690.3" y1="1048.12" x2="690.3" y2="1049.22" stroke="#5a9ac4" stroke-width="0.8"/>
<line x1="688.7" y1="1049.22" x2="691.9" y2="1049.22" stroke="#5a9ac4" stroke-width="0.8"/>
<line x1="695.17" y1="1048.12" x2="695.17" y2="1049.22" stroke="#5a9ac4" stroke-width="0.8"/>
<line x1="693.57" y1="1049.22" x2="696.77" y2="1049.22" stroke="#5a9ac4" stroke-width="0.8"/>
<line x1="700.04" y1="1048.4" x2="700.04" y2="1049.5" stroke="#5a9ac4" stroke-width="0.8"/>
<line x1="698.44" y1="1049.5" x2="701.64" y2="1049.5" stroke="#5a9ac4" stroke-width="0.8"/>
<line x1="704.91" y1="1048.4" x2="704.91" y2="1049.5" stroke="#5a9ac4" stroke-width="0.8"/>
<line x1="703.31" y1="1049.5" x2="706.51" y2="1049.5" stroke="#5a9ac4" stroke-width="0.8"/>
<line x1="709.78" y1="1048.67" x2="709.78" y2="1049.77" stroke="#5a9ac4" stroke-width="0.8"/>
<line x1="708.18" y1="1049.77" x2="711.38" y2="1049.77" stroke="#5a9ac4" stroke-width="0.8"/>
<line x1="539.36" y1="978.68" x2="539.36" y2="976.48" stroke="#555" stroke-width="0.8"/>
<line x1="537.76" y1="976.48" x2="540.96" y2="976.48" stroke="#555" stroke-width="0.8"/>
<line x1="544.23" y1="973.46" x2="544.23" y2="971.26" stroke="#555" stroke-width="0.8"/>
<line x1="542.63" y1="971.26" x2="545.83" y2="971.26" stroke="#555" stroke-width="0.8"/>
<line x1="549.09" y1="978.13" x2="549.09" y2="974.28" stroke="#555" stroke-width="0.8"/>
<line x1="547.49" y1="974.28" x2="550.69" y2="974.28" stroke="#555" stroke-width="0.8"/>
<line x1="553.96" y1="983.62" x2="553.96" y2="977.58" stroke="#555" stroke-width="0.8"/>
<line x1="552.36" y1="977.58" x2="555.56" y2="977.58" stroke="#555" stroke-width="0.8"/>
<line x1="558.83" y1="988.01" x2="558.83" y2="979.77" stroke="#555" stroke-width="0.8"/>
<line x1="557.23" y1="979.77" x2="560.43" y2="979.77" stroke="#555" stroke-width="0.8"/>
<line x1="563.7" y1="994.87" x2="563.7" y2="986.64" stroke="#555" stroke-width="0.8"/>
<line x1="562.1" y1="986.64" x2="565.3" y2="986.64" stroke="#555" stroke-width="0.8"/>
<line x1="568.57" y1="1003.93" x2="568.57" y2="996.24" stroke="#555" stroke-width="0.8"/>
<line x1="566.97" y1="996.24" x2="570.17" y2="996.24" stroke="#555" stroke-width="0.8"/>
<line x1="573.44" y1="1014.63" x2="573.44" y2="1007.5" stroke="#555" stroke-width="0.8"/>
<line x1="571.84" y1="1007.5" x2="575.04" y2="1007.5" stroke="#555" stroke-width="0.8"/>
<line x1="578.31" y1="1023.14" x2="578.31" y2="1017.11" stroke="#555" stroke-width="0.8"/>
<line x1="576.71" y1="1017.11" x2="579.91" y2="1017.11" stroke="#555" stroke-width="0.8"/>
<line x1="583.18" y1="1030.01" x2="583.18" y2="1026.16" stroke="#555" stroke-width="0.8"/>
<line x1="581.58" y1="1026.16" x2="584.78" y2="1026.16" stroke="#555" stroke-width="0.8"/>
<line x1="588.05" y1="1033.03" x2="588.05" y2="1030.56" stroke="#555" stroke-width="0.8"/>
<line x1="586.45" y1="1030.56" x2="589.65" y2="1030.56" stroke="#555" stroke-width="0.8"/>
<line x1="592.92" y1="1035.77" x2="592.92" y2="1034.12" stroke="#555" stroke-width="0.8"/>
<line x1="591.32" y1="1034.12" x2="594.52" y2="1034.12" stroke="#555" stroke-width="0.8"/>
<line x1="597.79" y1="1037.97" x2="597.79" y2="1036.6" stroke="#555" stroke-width="0.8"/>
<line x1="596.19" y1="1036.6" x2="599.39" y2="1036.6" stroke="#555" stroke-width="0.8"/>
<line x1="602.66" y1="1039.61" x2="602.66" y2="1038.24" stroke="#555" stroke-width="0.8"/>
<line x1="601.06" y1="1038.24" x2="604.26" y2="1038.24" stroke="#555" stroke-width="0.8"/>
<line x1="607.53" y1="1040.44" x2="607.53" y2="1039.34" stroke="#555" stroke-width="0.8"/>
<line x1="605.93" y1="1039.34" x2="609.13" y2="1039.34" stroke="#555" stroke-width="0.8"/>
<line x1="612.39" y1="1041.26" x2="612.39" y2="1040.16" stroke="#555" stroke-width="0.8"/>
<line x1="610.79" y1="1040.16" x2="613.99" y2="1040.16" stroke="#555" stroke-width="0.8"/>
<line x1="617.26" y1="1042.09" x2="617.26" y2="1040.99" stroke="#555" stroke-width="0.8"/>
<line x1="615.66" y1="1040.99" x2="618.86" y2="1040.99" stroke="#555" stroke-width="0.8"/>
<line x1="622.13" y1="1042.63" x2="622.13" y2="1041.54" stroke="#555" stroke-width="0.8"/>
<line x1="620.53" y1="1041.54" x2="623.73" y2="1041.54" stroke="#555" stroke-width="0.8"/>
<line x1="627" y1="1043.18" x2="627" y2="1042.09" stroke="#555" stroke-width="0.8"/>
<line x1="625.4" y1="1042.09" x2="628.6" y2="1042.09" stroke="#555" stroke-width="0.8"/>
<line x1="631.87" y1="1043.73" x2="631.87" y2="1042.63" stroke="#555" stroke-width="0.8"/>
<line x1="630.27" y1="1042.63" x2="633.47" y2="1042.63" stroke="#555" stroke-width="0.8"/>
<line x1="636.74" y1="1044.28" x2="636.74" y2="1043.18" stroke="#555" stroke-width="0.8"/>
<line x1="635.14" y1="1043.18" x2="638.34" y2="1043.18" stroke="#555" stroke-width="0.8"/>
<line x1="641.61" y1="1044.56" x2="641.61" y2="1043.46" stroke="#555" stroke-width="0.8"/>
<line x1="640.01" y1="1043.46" x2="643.21" y2="1043.46" stroke="#555" stroke-width="0.8"/>
<line x1="646.48" y1="1045.1" x2="646.48" y2="1044.01" stroke="#555" stroke-width="0.8"/>
<line x1="644.88" y1="1044.01" x2="648.08" y2="1044.01" stroke="#555" stroke-width="0.8"/>
<line x1="651.35" y1="1045.38" x2="651.35" y2="1044.28" stroke="#555" stroke-width="0.8"/>
<line x1="649.75" y1="1044.28" x2="652.95" y2="1044.28" stroke="#555" stroke-width="0.8"/>
<line x1="656.22" y1="1045.65" x2="656.22" y2="1044.56" stroke="#555" stroke-width="0.8"/>
<line x1="654.62" y1="1044.56" x2="657.82" y2="1044.56" stroke="#555" stroke-width="0.8"/>
<line x1="661.09" y1="1045.93" x2="661.09" y2="1044.83" stroke="#555" stroke-width="0.8"/>
<line x1="659.49" y1="1044.83" x2="662.69" y2="1044.83" stroke="#555" stroke-width="0.8"/>
<line x1="665.96" y1="1045.93" x2="665.96" y2="1044.83" stroke="#555" stroke-width="0.8"/>
<line x1="664.36" y1="1044.83" x2="667.56" y2="1044.83" stroke="#555" stroke-width="0.8"/>
<line x1="670.82" y1="1045.93" x2="670.82" y2="1044.83" stroke="#555" stroke-width="0.8"/>
<line x1="669.22" y1="1044.83" x2="672.42" y2="1044.83" stroke="#555" stroke-width="0.8"/>
<line x1="675.69" y1="1046.2" x2="675.69" y2="1045.1" stroke="#555" stroke-width="0.8"/>
<line x1="674.09" y1="1045.1" x2="677.29" y2="1045.1" stroke="#555" stroke-width="0.8"/>
<line x1="680.56" y1="1046.2" x2="680.56" y2="1045.1" stroke="#555" stroke-width="0.8"/>
<line x1="678.96" y1="1045.1" x2="682.16" y2="1045.1" stroke="#555" stroke-width="0.8"/>
<line x1="685.43" y1="1046.48" x2="685.43" y2="1045.38" stroke="#555" stroke-width="0.8"/>
<line x1="683.83" y1="1045.38" x2="687.03" y2="1045.38" stroke="#555" stroke-width="0.8"/>
<line x1="690.3" y1="1046.48" x2="690.3" y2="1045.38" stroke="#555" stroke-width="0.8"/>
<line x1="688.7" y1="1045.38" x2="691.9" y2="1045.38" stroke="#555" stroke-width="0.8"/>
<line x1="695.17" y1="1046.48" x2="695.17" y2="1045.38" stroke="#555" stroke-width="0.8"/>
<line x1="693.57" y1="1045.38" x2="696.77" y2="1045.38" stroke="#555" stroke-width="0.8"/>
<line x1="700.04" y1="1046.48" x2="700.04" y2="1045.38" stroke="#555" stroke-width="0.8"/>
<line x1="698.44" y1="1045.38" x2="701.64" y2="1045.38" stroke="#555" stroke-width="0.8"/>
<line x1="704.91" y1="1046.75" x2="704.91" y2="1045.65" stroke="#555" stroke-width="0.8"/>
<line x1="703.31" y1="1045.65" x2="706.51" y2="1045.65" stroke="#555" stroke-width="0.8"/>
<line x1="709.78" y1="1046.75" x2="709.78" y2="1045.65" stroke="#555" stroke-width="0.8"/>
<line x1="708.18" y1="1045.65" x2="711.38" y2="1045.65" stroke="#555" stroke-width="0.8"/>
<polyline fill="none" stroke="#111" stroke-width="1.1" points="539.36,978.68 544.23,973.46 549.09,978.13 553.96,983.62 558.83,988.01 563.70,994.87 568.57,1003.93 573.44,1014.63 578.31,1023.14 583.18,1030.01 588.05,1033.03 592.92,1035.77 597.79,1037.97 602.66,1039.61 607.53,1040.44 612.39,1041.26 617.26,1042.09 622.13,1042.63 627.00,1043.18 631.87,1043.73 636.74,1044.28 641.61,1044.56 646.48,1045.10 651.35,1045.38 656.22,1045.65 661.09,1045.93 665.96,1045.93 670.82,1045.93 675.69,1046.20 680.56,1046.20 685.43,1046.48 690.30,1046.48 695.17,1046.48 700.04,1046.48 704.91,1046.75 709.78,1046.75"/>
<polyline fill="none" stroke="#2f86bd" stroke-width="1.1" points="539.36,983.62 544.23,978.13 549.09,982.24 553.96,986.91 558.83,992.95 563.70,1000.36 568.57,1011.07 573.44,1020.95 578.31,1028.36 583.18,1033.03 588.05,1035.77 592.92,1037.69 597.79,1039.07 602.66,1040.16 607.53,1040.99 612.39,1041.81 617.26,1042.36 622.13,1042.91 627.00,1043.18 631.87,1043.73 636.74,1044.28 641.61,1044.83 646.48,1045.38 651.35,1045.93 656.22,1046.48 661.09,1046.75 665.96,1047.30 670.82,1047.58 675.69,1047.58 680.56,1047.85 685.43,1047.85 690.30,1048.12 695.17,1048.12 700.04,1048.40 704.91,1048.40 709.78,1048.67"/>
<circle cx="539.36" cy="978.68" r="2.05" fill="#151515"/>
<circle cx="544.23" cy="973.46" r="2.05" fill="#151515"/>
<circle cx="549.09" cy="978.13" r="2.05" fill="#151515"/>
<circle cx="553.96" cy="983.62" r="2.05" fill="#151515"/>
<circle cx="558.83" cy="988.01" r="2.05" fill="#151515"/>
<circle cx="563.7" cy="994.87" r="2.05" fill="#151515"/>
<circle cx="568.57" cy="1003.93" r="2.05" fill="#151515"/>
<circle cx="573.44" cy="1014.63" r="2.05" fill="#151515"/>
<circle cx="578.31" cy="1023.14" r="2.05" fill="#151515"/>
<circle cx="583.18" cy="1030.01" r="2.05" fill="#151515"/>
<circle cx="588.05" cy="1033.03" r="2.05" fill="#151515"/>
<circle cx="592.92" cy="1035.77" r="2.05" fill="#151515"/>
<circle cx="597.79" cy="1037.97" r="2.05" fill="#151515"/>
<circle cx="602.66" cy="1039.61" r="2.05" fill="#151515"/>
<circle cx="607.53" cy="1040.44" r="2.05" fill="#151515"/>
<circle cx="612.39" cy="1041.26" r="2.05" fill="#151515"/>
<circle cx="617.26" cy="1042.09" r="2.05" fill="#151515"/>
<circle cx="622.13" cy="1042.63" r="2.05" fill="#151515"/>
<circle cx="627" cy="1043.18" r="2.05" fill="#151515"/>
<circle cx="631.87" cy="1043.73" r="2.05" fill="#151515"/>
<circle cx="636.74" cy="1044.28" r="2.05" fill="#151515"/>
<circle cx="641.61" cy="1044.56" r="2.05" fill="#151515"/>
<circle cx="646.48" cy="1045.1" r="2.05" fill="#151515"/>
<circle cx="651.35" cy="1045.38" r="2.05" fill="#151515"/>
<circle cx="656.22" cy="1045.65" r="2.05" fill="#151515"/>
<circle cx="661.09" cy="1045.93" r="2.05" fill="#151515"/>
<circle cx="665.96" cy="1045.93" r="2.05" fill="#151515"/>
<circle cx="670.82" cy="1045.93" r="2.05" fill="#151515"/>
<circle cx="675.69" cy="1046.2" r="2.05" fill="#151515"/>
<circle cx="680.56" cy="1046.2" r="2.05" fill="#151515"/>
<circle cx="685.43" cy="1046.48" r="2.05" fill="#151515"/>
<circle cx="690.3" cy="1046.48" r="2.05" fill="#151515"/>
<circle cx="695.17" cy="1046.48" r="2.05" fill="#151515"/>
<circle cx="700.04" cy="1046.48" r="2.05" fill="#151515"/>
<circle cx="704.91" cy="1046.75" r="2.05" fill="#151515"/>
<circle cx="709.78" cy="1046.75" r="2.05" fill="#151515"/>
<circle cx="539.36" cy="983.62" r="2.05" fill="#125073"/>
<circle cx="544.23" cy="978.13" r="2.05" fill="#125073"/>
<circle cx="549.09" cy="982.24" r="2.05" fill="#125073"/>
<circle cx="553.96" cy="986.91" r="2.05" fill="#125073"/>
<circle cx="558.83" cy="992.95" r="2.05" fill="#125073"/>
<circle cx="563.7" cy="1000.36" r="2.05" fill="#125073"/>
<circle cx="568.57" cy="1011.07" r="2.05" fill="#125073"/>
<circle cx="573.44" cy="1020.95" r="2.05" fill="#125073"/>
<circle cx="578.31" cy="1028.36" r="2.05" fill="#125073"/>
<circle cx="583.18" cy="1033.03" r="2.05" fill="#125073"/>
<circle cx="588.05" cy="1035.77" r="2.05" fill="#125073"/>
<circle cx="592.92" cy="1037.69" r="2.05" fill="#125073"/>
<circle cx="597.79" cy="1039.07" r="2.05" fill="#125073"/>
<circle cx="602.66" cy="1040.16" r="2.05" fill="#125073"/>
<circle cx="607.53" cy="1040.99" r="2.05" fill="#125073"/>
<circle cx="612.39" cy="1041.81" r="2.05" fill="#125073"/>
<circle cx="617.26" cy="1042.36" r="2.05" fill="#125073"/>
<circle cx="622.13" cy="1042.91" r="2.05" fill="#125073"/>
<circle cx="627" cy="1043.18" r="2.05" fill="#125073"/>
<circle cx="631.87" cy="1043.73" r="2.05" fill="#125073"/>
<circle cx="636.74" cy="1044.28" r="2.05" fill="#125073"/>
<circle cx="641.61" cy="1044.83" r="2.05" fill="#125073"/>
<circle cx="646.48" cy="1045.38" r="2.05" fill="#125073"/>
<circle cx="651.35" cy="1045.93" r="2.05" fill="#125073"/>
<circle cx="656.22" cy="1046.48" r="2.05" fill="#125073"/>
<circle cx="661.09" cy="1046.75" r="2.05" fill="#125073"/>
<circle cx="665.96" cy="1047.3" r="2.05" fill="#125073"/>
<circle cx="670.82" cy="1047.58" r="2.05" fill="#125073"/>
<circle cx="675.69" cy="1047.58" r="2.05" fill="#125073"/>
<circle cx="680.56" cy="1047.85" r="2.05" fill="#125073"/>
<circle cx="685.43" cy="1047.85" r="2.05" fill="#125073"/>
<circle cx="690.3" cy="1048.12" r="2.05" fill="#125073"/>
<circle cx="695.17" cy="1048.12" r="2.05" fill="#125073"/>
<circle cx="700.04" cy="1048.4" r="2.05" fill="#125073"/>
<circle cx="704.91" cy="1048.4" r="2.05" fill="#125073"/>
<circle cx="709.78" cy="1048.67" r="2.05" fill="#125073"/>
<line x1="536.4" y1="951" x2="536.4" y2="1062.1" stroke="#000" stroke-width="1.4"/>
<line x1="535.7" y1="1061.3" x2="710.6" y2="1061.3" stroke="#000" stroke-width="1.7"/>
<line x1="531.4" y1="951.5" x2="536.4" y2="951.5" stroke="#000" stroke-width="1.1"/>
<text x="529.2" y="954.8" font-size="9" font-weight="normal" text-anchor="end" fill="#000">400</text>
<line x1="531.4" y1="978.95" x2="536.4" y2="978.95" stroke="#000" stroke-width="1.1"/>
<text x="529.2" y="982.25" font-size="9" font-weight="normal" text-anchor="end" fill="#000">300</text>
<line x1="531.4" y1="1006.4" x2="536.4" y2="1006.4" stroke="#000" stroke-width="1.1"/>
<text x="529.2" y="1009.7" font-size="9" font-weight="normal" text-anchor="end" fill="#000">200</text>
<line x1="531.4" y1="1033.85" x2="536.4" y2="1033.85" stroke="#000" stroke-width="1.1"/>
<text x="529.2" y="1037.15" font-size="9" font-weight="normal" text-anchor="end" fill="#000">100</text>
<line x1="531.4" y1="1061.3" x2="536.4" y2="1061.3" stroke="#000" stroke-width="1.1"/>
<text x="529.2" y="1064.6" font-size="9" font-weight="normal" text-anchor="end" fill="#000">0</text>
<line x1="536.4" y1="1061.3" x2="536.4" y2="1065.9" stroke="#000" stroke-width="1.1"/>
<line x1="553.79" y1="1061.3" x2="553.79" y2="1064.5" stroke="#000" stroke-width="1.1"/>
<line x1="571.18" y1="1061.3" x2="571.18" y2="1064.5" stroke="#000" stroke-width="1.1"/>
<line x1="588.57" y1="1061.3" x2="588.57" y2="1064.5" stroke="#000" stroke-width="1.1"/>
<line x1="605.96" y1="1061.3" x2="605.96" y2="1064.5" stroke="#000" stroke-width="1.1"/>
<line x1="623.35" y1="1061.3" x2="623.35" y2="1065.9" stroke="#000" stroke-width="1.1"/>
<line x1="640.74" y1="1061.3" x2="640.74" y2="1064.5" stroke="#000" stroke-width="1.1"/>
<line x1="658.13" y1="1061.3" x2="658.13" y2="1064.5" stroke="#000" stroke-width="1.1"/>
<line x1="675.52" y1="1061.3" x2="675.52" y2="1064.5" stroke="#000" stroke-width="1.1"/>
<line x1="692.91" y1="1061.3" x2="692.91" y2="1064.5" stroke="#000" stroke-width="1.1"/>
<line x1="710.3" y1="1061.3" x2="710.3" y2="1065.9" stroke="#000" stroke-width="1.1"/>
<text x="536.4" y="1076.6" font-size="9.6" font-weight="normal" text-anchor="middle" fill="#000">0</text>
<text x="623.35" y="1076.6" font-size="9.6" font-weight="normal" text-anchor="middle" fill="#000">5</text>
<text x="710.3" y="1076.6" font-size="9.6" font-weight="normal" text-anchor="middle" fill="#000">10</text>
<text x="624" y="1090.2" font-size="9.5" font-weight="normal" text-anchor="middle" fill="#000">Time (min)</text>
<text x="508.8" y="1005.8" font-size="8.9" font-weight="normal" text-anchor="middle" fill="#000" transform="rotate(-90 508.8 1005.8)">Force (mN)</text>
<text x="624" y="937" font-size="11" font-weight="bold" text-anchor="middle" fill="#000">Force fatigue curve</text>
<text x="509.8" y="930.2" font-size="17" font-weight="bold" text-anchor="start" fill="#000">N</text>
<line x1="637.5" y1="964" x2="649.1" y2="964" stroke="#111" stroke-width="1.0"/>
<circle cx="643.3" cy="964" r="1.6" fill="#111"/>
<line x1="637.5" y1="978.3" x2="649.1" y2="978.3" stroke="#2f86bd" stroke-width="1.0"/>
<circle cx="643.3" cy="978.3" r="1.6" fill="#125073"/>
<text x="655" y="967.4" font-size="8.4" font-weight="normal" text-anchor="start" fill="#000">WT</text>
<text x="655" y="981.7" font-size="8.4" font-weight="normal" text-anchor="start" fill="#000">CaMKK2 KO</text>
<line x1="16.85" y1="308.2" x2="16.85" y2="487.1" stroke="#000" stroke-width="2.0"/>
<text x="7.7" y="399" font-size="11.4" font-weight="bold" text-anchor="middle" fill="#000" transform="rotate(-90 7.7 399)">EDL</text>
<line x1="16.85" y1="742.7" x2="16.85" y2="1089.2" stroke="#000" stroke-width="2.0"/>
<text x="8.1" y="926.7" font-size="11.5" font-weight="bold" text-anchor="middle" fill="#000" transform="rotate(-90 8.1 926.7)">Soleus</text>
</svg>
</body></html>
